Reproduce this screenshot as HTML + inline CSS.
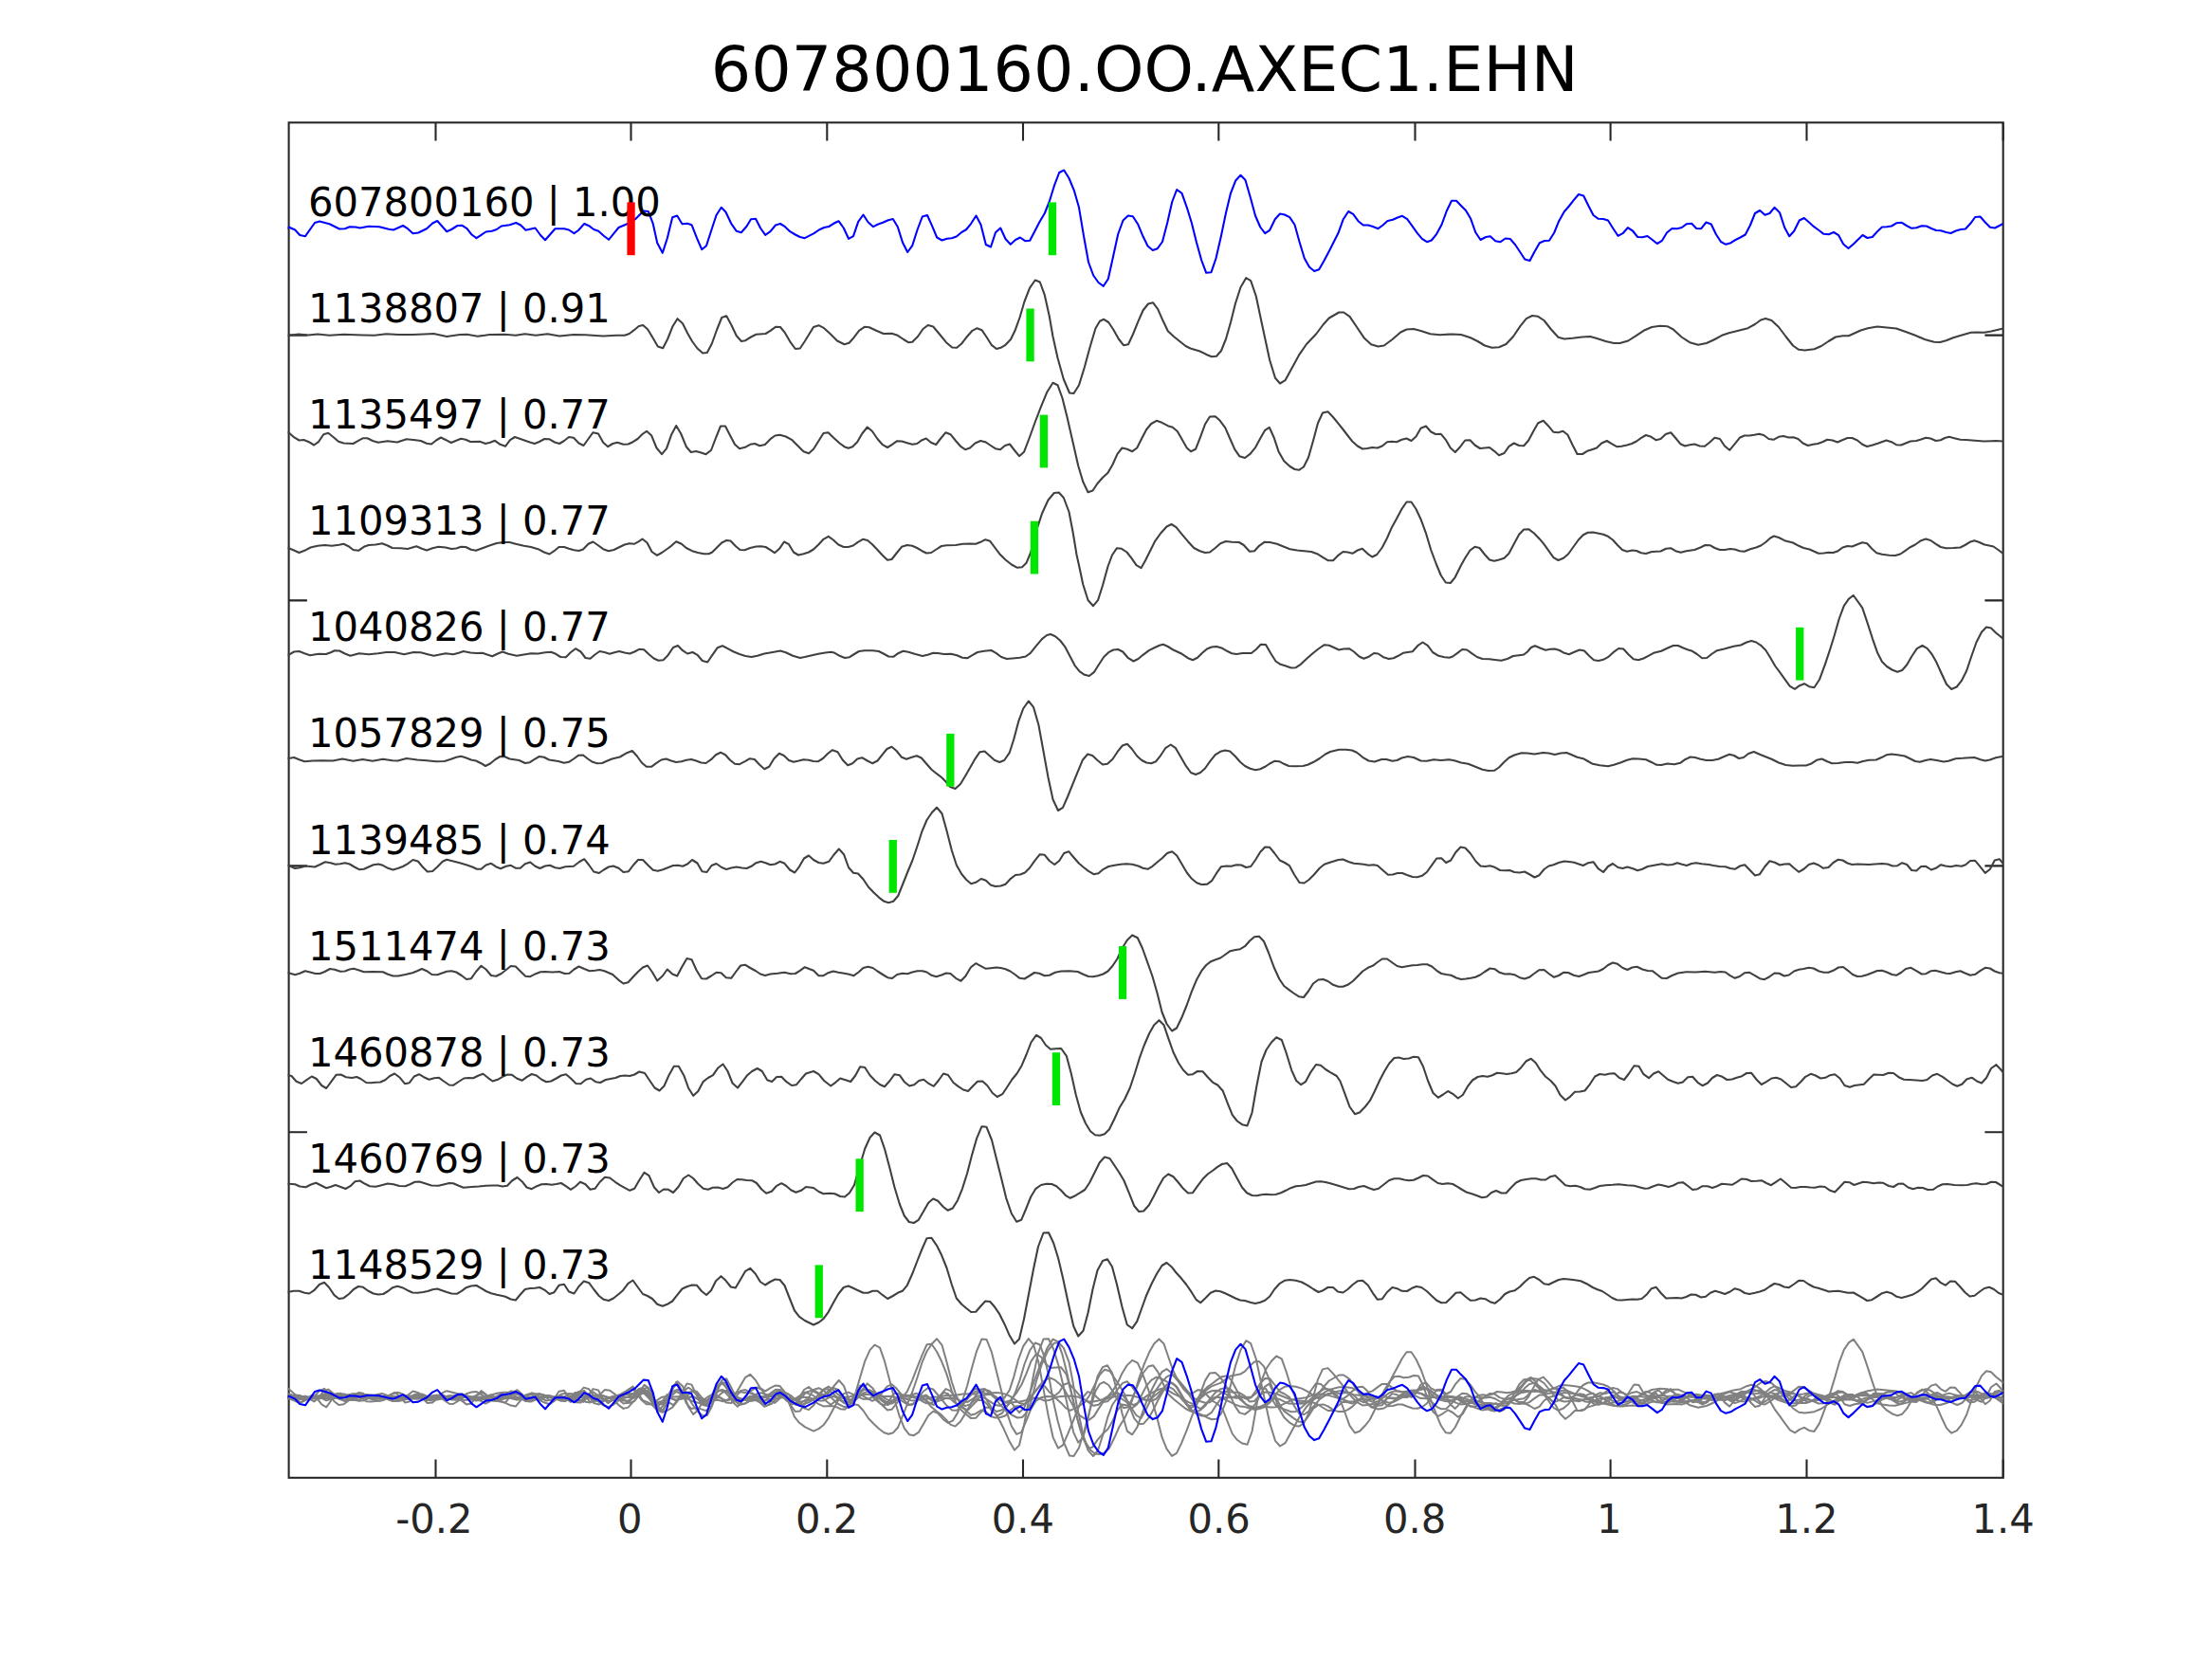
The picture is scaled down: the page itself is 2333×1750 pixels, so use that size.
<!DOCTYPE html>
<html lang="en"><head><meta charset="utf-8"><title>607800160.OO.AXEC1.EHN</title>
<style>html,body{margin:0;padding:0;background:#fff}body{width:2333px;height:1750px;overflow:hidden}svg{display:block}text{font-family:"DejaVu Sans","Liberation Sans",sans-serif}</style>
</head><body>
<svg width="2333" height="1750" viewBox="0 0 2333 1750">
<rect x="0" y="0" width="2333" height="1750" fill="#ffffff"/>
<text x="1207.2" y="95.7" font-size="66.67" text-anchor="middle" letter-spacing="0.14" fill="#000">607800160.OO.AXEC1.EHN</text>
<defs><clipPath id="c"><rect x="303.5" y="129.3" width="1809.2" height="1429.5"/></clipPath></defs>
<g stroke="#262626" stroke-width="2.08" fill="none" stroke-linecap="butt">
<path d="M459.5 1558.8 V1539.5 M459.5 129.3 V148.6"/>
<path d="M665.5 1558.8 V1539.5 M665.5 129.3 V148.6"/>
<path d="M872.3 1558.8 V1539.5 M872.3 129.3 V148.6"/>
<path d="M1079.0 1558.8 V1539.5 M1079.0 129.3 V148.6"/>
<path d="M1285.3 1558.8 V1539.5 M1285.3 129.3 V148.6"/>
<path d="M1492.5 1558.8 V1539.5 M1492.5 129.3 V148.6"/>
<path d="M1698.6 1558.8 V1539.5 M1698.6 129.3 V148.6"/>
<path d="M1905.5 1558.8 V1539.5 M1905.5 129.3 V148.6"/>
<path d="M2112.7 1558.8 V1539.5 M2112.7 129.3 V148.6"/>
<path d="M304.6 353.6 H323.9 M2112.7 353.6 H2093.4"/>
<path d="M304.6 633.4 H323.9 M2112.7 633.4 H2093.4"/>
<path d="M304.6 913.4 H323.9 M2112.7 913.4 H2093.4"/>
<path d="M304.6 1194.3 H323.9 M2112.7 1194.3 H2093.4"/>
<path d="M304.6 1474.0 H323.9 M2112.7 1474.0 H2093.4"/>
</g>
<rect x="304.6" y="129.3" width="1808.1" height="1429.5" fill="none" stroke="#262626" stroke-width="2.08"/>
<g clip-path="url(#c)" fill="none" stroke-linejoin="round" stroke-linecap="round">
<path d="M303.4 1362.8 L304.5 1362.8 L310.0 1361.8 L315.5 1361.8 L321.2 1363.8 L326.2 1364.5 L331.2 1361.2 L336.8 1355.0 L342.0 1352.8 L347.0 1358.0 L352.5 1366.2 L357.5 1370.0 L362.5 1369.2 L368.0 1365.0 L373.0 1360.0 L378.0 1357.0 L383.0 1357.8 L388.0 1361.5 L393.8 1364.5 L398.8 1365.5 L404.2 1365.0 L409.2 1362.0 L414.2 1358.2 L419.2 1356.8 L424.2 1358.2 L430.0 1361.2 L435.0 1363.5 L440.5 1363.8 L446.2 1363.0 L451.2 1362.0 L456.2 1360.2 L461.2 1359.5 L466.2 1361.2 L471.2 1363.0 L476.2 1364.5 L481.8 1364.8 L486.8 1361.8 L491.8 1358.2 L496.8 1356.5 L502.5 1356.0 L507.5 1358.8 L512.5 1362.0 L518.0 1364.2 L523.8 1365.8 L528.8 1366.8 L533.0 1367.8 L538.8 1370.5 L543.8 1371.5 L548.8 1365.5 L553.8 1360.0 L559.2 1359.0 L564.2 1358.8 L569.2 1358.0 L574.5 1360.8 L579.5 1365.0 L584.5 1363.2 L589.5 1355.8 L595.0 1354.8 L600.0 1362.5 L605.5 1364.5 L610.5 1357.0 L615.8 1351.5 L621.2 1353.2 L626.2 1360.0 L631.8 1367.0 L636.8 1370.8 L642.0 1372.0 L647.0 1369.5 L652.0 1365.5 L657.0 1361.2 L662.5 1353.8 L667.5 1350.5 L672.5 1357.5 L678.0 1365.0 L683.0 1367.0 L688.0 1370.0 L693.2 1375.8 L698.8 1377.8 L703.8 1375.8 L709.2 1372.5 L714.2 1366.2 L719.5 1359.5 L725.0 1357.0 L730.0 1355.5 L735.0 1355.8 L740.0 1362.0 L745.0 1366.0 L750.0 1361.2 L755.0 1351.2 L760.5 1346.2 L765.5 1350.8 L770.8 1357.5 L775.8 1358.5 L780.8 1350.0 L786.2 1340.8 L791.2 1337.8 L796.8 1343.8 L801.8 1352.0 L807.0 1355.5 L812.5 1352.0 L817.5 1349.5 L822.5 1350.0 L827.5 1356.0 L833.0 1370.0 L838.0 1382.5 L843.0 1388.8 L848.8 1393.0 L858.0 1397.5 L863.5 1395.0 L868.5 1391.2 L873.8 1383.8 L879.2 1373.8 L884.2 1365.0 L889.8 1358.0 L894.8 1356.5 L899.8 1358.8 L905.0 1361.2 L910.5 1363.8 L915.5 1363.8 L920.5 1361.8 L925.5 1361.8 L931.0 1366.2 L936.2 1370.0 L941.8 1367.0 L946.8 1363.8 L951.8 1361.8 L956.8 1355.8 L962.2 1343.8 L967.5 1330.0 L972.5 1317.5 L977.5 1306.2 L982.5 1305.8 L988.0 1313.8 L993.0 1323.8 L998.5 1337.5 L1003.8 1355.0 L1008.8 1369.5 L1014.2 1375.8 L1019.2 1380.0 L1024.2 1384.0 L1029.2 1383.8 L1034.2 1378.0 L1039.2 1372.5 L1044.2 1373.0 L1049.2 1378.8 L1054.2 1386.2 L1059.2 1396.2 L1064.8 1408.8 L1070.0 1417.5 L1075.0 1412.5 L1080.0 1391.2 L1085.0 1365.0 L1090.0 1338.8 L1095.0 1315.0 L1100.5 1300.5 L1106.0 1300.2 L1111.2 1311.2 L1116.2 1327.5 L1121.2 1348.8 L1126.8 1375.0 L1132.2 1398.8 L1137.2 1409.5 L1142.5 1403.8 L1147.5 1385.0 L1152.5 1360.0 L1157.5 1340.0 L1163.0 1330.0 L1168.0 1328.2 L1173.0 1336.2 L1178.0 1355.0 L1183.5 1378.8 L1188.8 1397.5 L1194.2 1401.2 L1199.2 1393.8 L1204.2 1380.0 L1209.2 1366.2 L1214.8 1353.8 L1220.0 1343.8 L1225.5 1335.0 L1230.5 1332.0 L1235.5 1336.2 L1240.5 1342.5 L1246.2 1348.8 L1251.2 1355.0 L1256.8 1363.2 L1261.8 1371.2 L1266.2 1374.2 L1271.2 1369.5 L1276.8 1363.8 L1282.2 1361.5 L1287.2 1362.2 L1292.2 1364.2 L1298.0 1367.0 L1303.0 1369.5 L1308.0 1371.5 L1313.0 1372.0 L1318.5 1373.8 L1323.8 1375.0 L1329.2 1373.8 L1334.2 1371.8 L1339.2 1367.5 L1344.2 1360.0 L1349.8 1353.8 L1354.8 1350.8 L1360.5 1350.0 L1366.8 1350.8 L1373.0 1352.5 L1379.2 1355.8 L1385.5 1360.0 L1390.5 1363.0 L1395.5 1361.2 L1400.5 1358.0 L1406.0 1358.0 L1411.0 1362.5 L1416.5 1363.5 L1421.5 1360.0 L1426.8 1355.0 L1432.2 1351.2 L1437.2 1350.8 L1442.8 1355.8 L1447.8 1363.8 L1452.8 1370.8 L1457.8 1370.2 L1463.0 1363.0 L1468.5 1358.0 L1473.5 1359.2 L1478.5 1361.8 L1484.0 1362.0 L1489.2 1358.8 L1494.0 1357.0 L1499.2 1358.0 L1504.8 1362.0 L1509.8 1366.8 L1515.2 1371.8 L1520.2 1374.2 L1525.2 1374.0 L1530.2 1369.2 L1535.5 1363.8 L1540.5 1363.2 L1546.0 1368.0 L1551.0 1371.8 L1556.0 1371.5 L1561.5 1369.5 L1566.5 1370.2 L1571.5 1373.2 L1576.5 1374.8 L1582.2 1370.5 L1587.2 1365.0 L1592.2 1362.5 L1597.8 1361.2 L1602.8 1357.5 L1607.8 1352.5 L1613.0 1348.0 L1618.0 1346.8 L1623.5 1350.0 L1628.5 1354.2 L1633.5 1355.0 L1638.5 1352.5 L1644.0 1350.0 L1649.0 1349.0 L1654.8 1349.5 L1661.0 1350.2 L1667.2 1351.2 L1673.5 1354.2 L1679.8 1358.0 L1684.8 1360.2 L1689.8 1362.0 L1695.2 1365.5 L1700.2 1369.0 L1705.2 1371.2 L1710.2 1371.5 L1716.0 1371.0 L1721.5 1370.5 L1726.5 1370.8 L1731.5 1370.0 L1736.5 1365.8 L1741.8 1359.2 L1746.8 1357.8 L1752.2 1364.5 L1757.2 1369.5 L1762.8 1369.2 L1768.5 1369.0 L1773.5 1369.5 L1778.5 1368.0 L1783.5 1365.5 L1788.5 1365.8 L1794.0 1368.5 L1799.0 1367.8 L1804.0 1363.8 L1809.0 1361.8 L1814.2 1363.2 L1819.2 1365.0 L1824.8 1362.5 L1829.8 1359.2 L1835.2 1360.8 L1840.2 1364.0 L1845.2 1365.0 L1851.0 1363.8 L1856.0 1362.5 L1861.0 1360.8 L1866.5 1357.0 L1871.5 1354.0 L1876.5 1355.0 L1881.8 1357.5 L1886.8 1358.2 L1892.2 1354.5 L1897.2 1350.8 L1902.2 1351.0 L1907.2 1354.5 L1912.8 1357.5 L1918.5 1359.0 L1924.0 1360.8 L1929.0 1362.5 L1934.0 1362.0 L1939.0 1361.8 L1944.0 1362.8 L1949.0 1363.8 L1954.8 1363.5 L1964.2 1368.8 L1969.2 1372.0 L1974.2 1371.2 L1980.0 1367.5 L1985.0 1364.2 L1990.0 1362.8 L1995.0 1364.2 L2000.5 1367.8 L2005.5 1369.0 L2011.2 1367.5 L2016.8 1365.8 L2021.8 1363.2 L2026.8 1359.5 L2031.8 1354.5 L2036.8 1349.5 L2041.8 1348.2 L2047.0 1353.2 L2052.0 1355.8 L2057.0 1351.5 L2062.0 1351.8 L2067.0 1357.0 L2072.5 1363.2 L2077.5 1367.5 L2082.5 1366.8 L2088.0 1362.5 L2093.0 1359.0 L2098.0 1357.8 L2103.0 1360.0 L2108.0 1364.0 L2112.8 1365.8" stroke="#404040" stroke-width="2.08"/>
<path d="M303.4 1248.8 L304.5 1248.8 L311.2 1249.2 L316.2 1251.5 L322.5 1252.2 L328.0 1249.5 L333.2 1247.8 L338.8 1250.5 L344.2 1253.2 L349.2 1251.8 L353.8 1250.0 L359.2 1252.0 L364.5 1254.0 L369.5 1251.2 L374.5 1246.2 L379.5 1245.5 L385.0 1248.8 L390.0 1251.2 L396.2 1251.8 L402.5 1250.2 L408.8 1248.5 L415.0 1249.2 L421.2 1251.0 L427.5 1251.2 L432.5 1249.2 L437.5 1246.8 L442.5 1246.5 L448.8 1248.5 L455.0 1250.5 L462.5 1250.8 L468.8 1249.2 L473.8 1248.0 L478.0 1248.2 L483.8 1250.8 L488.8 1252.8 L497.5 1252.0 L505.0 1251.5 L512.5 1250.8 L520.0 1250.5 L525.0 1250.5 L530.0 1251.5 L535.0 1250.8 L540.0 1245.5 L545.5 1242.0 L550.5 1246.2 L555.5 1252.5 L560.8 1254.2 L566.2 1251.2 L571.2 1249.2 L576.2 1249.0 L581.8 1249.8 L586.8 1249.0 L591.8 1248.0 L596.8 1251.2 L602.0 1254.8 L607.0 1251.5 L612.0 1246.8 L617.5 1249.2 L622.5 1254.8 L627.5 1253.8 L632.5 1247.0 L638.0 1241.8 L643.2 1242.5 L648.8 1246.8 L653.8 1250.2 L659.2 1253.2 L664.2 1255.8 L669.2 1253.8 L674.2 1245.0 L679.5 1236.8 L684.5 1240.2 L690.0 1252.5 L695.0 1258.0 L700.0 1254.5 L705.0 1254.8 L710.0 1258.0 L715.5 1252.0 L720.8 1243.0 L726.2 1239.5 L731.2 1243.0 L736.2 1248.8 L741.8 1253.8 L746.8 1254.8 L751.8 1252.8 L757.0 1252.5 L762.5 1254.0 L767.5 1252.2 L772.5 1247.5 L777.5 1244.0 L782.5 1244.2 L787.5 1245.0 L793.0 1245.2 L798.0 1248.0 L803.2 1254.5 L808.2 1258.8 L813.8 1256.8 L818.8 1251.2 L824.2 1248.2 L829.2 1251.0 L834.5 1255.5 L839.5 1257.8 L845.0 1255.8 L850.0 1252.0 L858.0 1253.0 L863.5 1257.0 L868.5 1259.2 L875.5 1258.8 L880.5 1259.2 L886.2 1262.0 L891.0 1262.5 L896.0 1258.2 L901.0 1250.0 L906.0 1232.5 L912.2 1211.8 L917.5 1200.0 L922.5 1194.5 L928.0 1197.5 L933.0 1211.8 L938.5 1232.5 L943.5 1252.5 L948.8 1270.0 L953.8 1282.5 L958.8 1289.0 L963.8 1290.0 L968.8 1286.8 L974.2 1277.5 L979.2 1268.8 L984.2 1264.5 L989.2 1266.8 L994.8 1273.0 L999.8 1276.8 L1004.8 1274.5 L1010.0 1266.2 L1015.0 1253.8 L1020.0 1238.0 L1025.0 1218.8 L1030.0 1201.2 L1035.5 1188.2 L1040.5 1188.8 L1046.0 1202.5 L1051.0 1222.5 L1056.2 1243.2 L1061.2 1263.8 L1066.8 1280.0 L1072.2 1288.8 L1077.2 1286.8 L1082.2 1275.0 L1087.2 1262.5 L1092.5 1253.8 L1098.0 1250.0 L1103.8 1248.8 L1109.2 1249.0 L1114.2 1251.2 L1119.2 1255.8 L1124.2 1261.2 L1128.8 1263.8 L1134.2 1261.2 L1139.2 1258.2 L1144.2 1255.0 L1149.2 1247.5 L1154.8 1236.2 L1159.8 1226.2 L1165.0 1220.5 L1170.5 1222.0 L1175.5 1229.5 L1180.5 1237.0 L1185.5 1245.5 L1191.0 1258.8 L1196.2 1272.0 L1201.2 1278.0 L1206.2 1277.5 L1211.8 1271.2 L1216.8 1262.0 L1222.2 1251.2 L1227.2 1242.5 L1232.2 1238.5 L1237.5 1241.2 L1242.5 1247.0 L1248.0 1253.8 L1253.0 1258.5 L1258.0 1258.2 L1263.0 1251.2 L1268.5 1243.8 L1273.8 1238.5 L1278.8 1235.0 L1283.8 1231.2 L1288.8 1228.0 L1294.2 1227.0 L1299.2 1232.5 L1304.8 1243.0 L1310.0 1252.5 L1315.0 1258.2 L1320.5 1261.0 L1325.5 1261.2 L1330.5 1260.2 L1335.5 1259.8 L1340.5 1260.2 L1345.5 1260.0 L1351.0 1258.2 L1356.2 1255.8 L1361.2 1253.2 L1366.8 1251.2 L1372.2 1250.8 L1377.2 1250.0 L1382.5 1248.2 L1388.0 1246.5 L1393.0 1246.2 L1398.0 1247.0 L1403.0 1248.2 L1411.5 1250.8 L1417.2 1252.5 L1422.8 1254.2 L1428.0 1254.0 L1433.0 1252.0 L1438.5 1251.0 L1444.0 1253.2 L1449.0 1255.0 L1454.0 1253.8 L1459.8 1249.2 L1465.2 1245.0 L1470.5 1243.2 L1476.0 1243.2 L1481.0 1244.5 L1486.0 1245.2 L1491.0 1244.8 L1496.0 1242.5 L1501.0 1240.0 L1506.0 1240.5 L1511.0 1244.2 L1516.5 1248.0 L1521.5 1249.0 L1527.2 1248.2 L1532.2 1249.0 L1537.2 1251.8 L1542.2 1255.0 L1547.2 1257.8 L1553.0 1259.5 L1558.5 1261.5 L1563.0 1263.2 L1568.0 1262.5 L1573.0 1258.0 L1578.0 1256.0 L1583.5 1258.5 L1588.5 1258.5 L1593.5 1253.0 L1599.0 1247.5 L1604.2 1245.0 L1609.8 1244.0 L1615.2 1243.2 L1620.2 1243.2 L1625.2 1244.5 L1630.2 1244.5 L1635.2 1241.2 L1640.2 1240.0 L1645.5 1245.0 L1651.0 1250.2 L1656.0 1251.2 L1661.5 1250.8 L1666.5 1252.0 L1671.5 1254.2 L1676.8 1254.8 L1682.2 1253.0 L1687.2 1251.0 L1693.5 1250.2 L1701.0 1249.8 L1707.2 1249.2 L1716.0 1250.2 L1723.5 1250.8 L1729.8 1252.5 L1734.8 1253.8 L1738.5 1253.5 L1744.0 1251.2 L1749.2 1249.5 L1754.2 1250.5 L1759.8 1252.0 L1764.8 1250.5 L1769.8 1247.8 L1774.8 1247.2 L1780.2 1251.0 L1785.2 1255.0 L1790.5 1254.2 L1795.5 1251.2 L1801.0 1251.2 L1806.0 1253.0 L1811.0 1251.2 L1816.0 1248.8 L1821.5 1249.2 L1826.8 1249.8 L1831.8 1246.8 L1836.8 1243.5 L1842.2 1244.0 L1847.2 1246.0 L1852.8 1245.8 L1857.8 1245.2 L1863.0 1248.0 L1868.0 1250.2 L1873.0 1246.8 L1878.0 1243.5 L1883.5 1248.0 L1889.0 1252.8 L1893.5 1253.0 L1899.0 1252.0 L1904.2 1252.0 L1909.2 1252.5 L1914.2 1252.8 L1919.8 1251.5 L1924.8 1252.0 L1930.2 1255.8 L1935.2 1257.5 L1940.5 1252.0 L1945.5 1246.8 L1950.5 1247.2 L1955.5 1250.0 L1965.0 1246.8 L1970.5 1247.2 L1976.2 1248.2 L1981.2 1247.5 L1986.2 1247.8 L1992.0 1251.0 L1997.0 1252.0 L2002.0 1248.8 L2007.0 1248.5 L2012.5 1252.5 L2017.5 1254.2 L2023.0 1252.8 L2028.0 1253.0 L2033.2 1255.0 L2038.8 1254.8 L2043.8 1251.5 L2048.8 1249.2 L2053.8 1249.0 L2061.2 1250.0 L2068.8 1250.2 L2075.0 1250.0 L2080.0 1248.8 L2084.5 1248.2 L2090.0 1249.2 L2095.0 1249.0 L2100.0 1246.8 L2105.0 1247.0 L2112.8 1251.8" stroke="#404040" stroke-width="2.08"/>
<path d="M303.4 1134.2 L304.5 1134.2 L307.5 1135.0 L312.5 1140.8 L318.0 1143.0 L323.8 1138.8 L328.8 1135.5 L333.8 1138.0 L339.2 1145.0 L344.2 1148.0 L349.2 1141.2 L354.5 1133.8 L359.5 1133.5 L365.0 1136.2 L371.2 1137.0 L376.2 1136.0 L380.5 1138.0 L386.2 1142.0 L391.2 1142.2 L396.2 1141.8 L401.2 1141.5 L406.2 1139.2 L411.2 1135.0 L416.2 1132.5 L421.8 1136.8 L427.0 1143.2 L431.8 1142.2 L436.8 1135.5 L442.0 1133.2 L447.0 1136.2 L452.5 1138.8 L458.0 1137.2 L463.0 1136.8 L468.0 1140.5 L473.8 1144.5 L478.0 1144.8 L483.8 1141.0 L489.2 1137.5 L494.2 1137.0 L499.2 1137.2 L504.2 1134.8 L509.5 1132.8 L514.5 1136.8 L519.5 1140.5 L525.0 1138.8 L530.0 1135.8 L535.0 1133.5 L540.0 1133.8 L545.0 1137.5 L550.5 1139.8 L555.5 1136.2 L560.8 1133.0 L565.8 1134.5 L571.2 1138.8 L576.2 1141.2 L581.2 1140.5 L586.8 1137.5 L591.8 1134.5 L597.0 1133.2 L602.0 1137.5 L607.5 1143.0 L612.5 1143.2 L618.0 1138.8 L623.0 1137.5 L628.2 1141.2 L633.2 1142.0 L638.8 1139.0 L643.8 1138.0 L649.2 1137.0 L654.2 1135.0 L659.2 1134.5 L664.2 1135.0 L669.2 1133.5 L674.2 1130.5 L680.0 1132.0 L685.0 1139.5 L690.5 1147.5 L695.5 1150.5 L700.5 1145.5 L705.5 1134.2 L710.8 1124.8 L715.8 1124.8 L721.2 1134.2 L726.2 1148.0 L731.2 1155.8 L736.2 1151.2 L741.8 1140.8 L746.8 1137.0 L752.0 1134.2 L757.0 1126.8 L762.5 1122.5 L767.5 1130.0 L772.5 1142.5 L778.0 1147.5 L783.0 1141.2 L788.2 1134.2 L793.2 1130.0 L798.8 1127.0 L803.8 1130.0 L809.2 1139.2 L814.2 1141.0 L819.2 1136.0 L824.2 1135.8 L829.5 1141.2 L835.0 1145.0 L840.0 1144.2 L845.0 1138.2 L850.0 1132.5 L858.0 1130.0 L863.5 1133.2 L869.2 1140.0 L876.2 1145.5 L881.2 1141.8 L886.2 1137.5 L891.8 1139.2 L897.2 1141.0 L902.2 1134.5 L907.2 1125.2 L912.2 1126.0 L917.5 1134.2 L923.0 1140.0 L928.0 1144.0 L933.0 1146.2 L938.5 1140.0 L943.5 1133.2 L948.8 1134.2 L953.8 1141.2 L959.2 1145.5 L964.2 1144.2 L969.2 1140.0 L974.2 1138.8 L979.8 1143.2 L984.8 1145.8 L990.0 1139.5 L995.0 1132.5 L1000.0 1134.0 L1005.5 1142.0 L1010.5 1145.8 L1016.0 1149.5 L1021.0 1151.0 L1026.0 1145.8 L1031.0 1140.8 L1036.2 1140.5 L1041.2 1145.0 L1046.8 1153.0 L1051.8 1157.0 L1057.2 1154.2 L1062.5 1146.2 L1067.5 1138.5 L1072.5 1132.5 L1077.5 1124.2 L1082.5 1112.5 L1087.5 1099.5 L1093.0 1091.8 L1098.0 1095.0 L1103.0 1102.5 L1108.0 1106.8 L1113.8 1106.2 L1119.2 1106.0 L1124.8 1113.8 L1129.8 1132.5 L1134.8 1155.0 L1139.8 1173.0 L1145.0 1185.0 L1150.0 1193.2 L1155.0 1197.2 L1160.0 1197.8 L1165.0 1196.2 L1170.0 1191.2 L1175.5 1180.0 L1180.5 1168.8 L1186.2 1159.5 L1191.8 1147.5 L1196.8 1132.5 L1201.8 1116.2 L1206.8 1102.5 L1212.2 1090.0 L1217.2 1081.2 L1222.5 1076.2 L1227.5 1081.2 L1232.5 1095.8 L1237.5 1110.0 L1243.0 1121.2 L1248.0 1128.8 L1253.0 1133.8 L1258.0 1133.2 L1263.0 1130.0 L1268.5 1130.2 L1273.8 1136.2 L1279.2 1141.8 L1284.2 1144.5 L1289.8 1150.8 L1294.8 1163.8 L1299.8 1176.2 L1304.8 1182.5 L1310.0 1186.2 L1315.5 1187.5 L1320.5 1173.8 L1325.5 1145.0 L1330.5 1120.0 L1335.5 1107.5 L1341.0 1099.5 L1346.2 1094.2 L1351.8 1097.0 L1356.8 1111.2 L1362.2 1128.8 L1367.2 1140.0 L1372.2 1144.2 L1377.2 1140.8 L1382.5 1130.8 L1388.0 1123.0 L1393.0 1123.8 L1398.0 1128.0 L1403.0 1131.2 L1409.8 1135.0 L1413.5 1140.5 L1418.5 1153.8 L1423.5 1167.5 L1429.0 1175.2 L1434.0 1173.5 L1439.8 1167.5 L1444.8 1161.2 L1449.8 1151.2 L1455.2 1139.5 L1460.2 1130.0 L1465.2 1121.8 L1470.5 1116.0 L1475.5 1115.5 L1480.5 1117.0 L1486.0 1116.5 L1491.0 1114.8 L1496.0 1115.2 L1501.0 1125.0 L1506.0 1140.0 L1511.5 1153.0 L1516.8 1157.8 L1522.2 1154.5 L1527.2 1151.0 L1532.2 1153.8 L1537.8 1158.5 L1542.8 1155.0 L1547.8 1146.2 L1553.0 1139.5 L1558.5 1136.0 L1563.5 1135.0 L1569.0 1135.8 L1574.0 1134.2 L1579.0 1131.8 L1584.0 1132.2 L1589.2 1133.0 L1594.2 1132.2 L1599.2 1131.0 L1604.2 1126.2 L1609.8 1119.2 L1614.8 1116.8 L1619.8 1121.2 L1624.8 1129.2 L1630.2 1135.8 L1635.5 1140.0 L1640.5 1145.5 L1645.5 1155.0 L1651.0 1160.5 L1656.0 1156.8 L1661.0 1151.8 L1666.5 1151.5 L1671.5 1150.5 L1676.8 1143.8 L1682.2 1135.5 L1687.2 1133.0 L1692.8 1133.8 L1697.8 1132.5 L1702.8 1132.2 L1708.0 1137.0 L1713.0 1139.0 L1718.0 1132.5 L1723.5 1124.2 L1728.5 1124.8 L1733.5 1133.2 L1739.0 1137.2 L1744.0 1132.5 L1749.2 1130.2 L1754.2 1134.5 L1759.2 1138.8 L1764.8 1141.0 L1769.8 1142.8 L1774.8 1141.5 L1780.2 1136.2 L1785.2 1135.8 L1790.5 1141.8 L1795.5 1145.2 L1801.0 1142.5 L1806.0 1137.0 L1811.0 1134.0 L1816.5 1135.8 L1821.5 1139.0 L1826.8 1138.5 L1831.8 1136.8 L1837.2 1135.2 L1842.2 1132.0 L1847.2 1131.8 L1852.8 1139.0 L1857.8 1144.0 L1863.0 1141.2 L1868.5 1137.5 L1873.5 1136.8 L1878.5 1138.5 L1883.5 1142.5 L1889.0 1147.0 L1894.0 1146.2 L1899.2 1141.2 L1904.2 1135.8 L1909.8 1132.8 L1914.8 1134.5 L1920.2 1137.5 L1925.2 1136.8 L1930.2 1134.2 L1935.2 1133.2 L1940.5 1137.5 L1945.5 1145.0 L1951.0 1146.8 L1956.0 1145.0 L1965.8 1143.8 L1971.2 1138.2 L1976.2 1133.5 L1981.2 1133.8 L1986.2 1134.0 L1992.0 1131.8 L1997.0 1132.0 L2002.5 1136.2 L2008.0 1138.8 L2013.8 1139.0 L2021.2 1139.5 L2027.5 1140.0 L2032.5 1139.0 L2038.0 1134.5 L2043.2 1132.8 L2048.8 1135.8 L2053.8 1139.5 L2059.2 1143.5 L2064.2 1145.8 L2069.2 1143.8 L2074.5 1138.2 L2080.0 1136.8 L2085.0 1140.5 L2090.0 1142.5 L2095.0 1137.0 L2100.0 1127.0 L2105.5 1123.2 L2110.0 1128.0 L2112.8 1131.2" stroke="#404040" stroke-width="2.08"/>
<path d="M303.4 1026.2 L304.5 1026.2 L311.2 1028.2 L316.2 1026.8 L321.8 1024.2 L327.0 1025.5 L332.5 1027.0 L337.5 1027.0 L342.5 1025.0 L348.0 1022.0 L353.0 1022.8 L358.8 1024.8 L363.8 1024.5 L368.8 1022.5 L373.0 1021.8 L378.0 1023.2 L383.8 1025.2 L393.8 1025.0 L403.8 1025.2 L409.2 1027.8 L414.5 1029.5 L420.0 1029.5 L427.5 1028.0 L435.0 1026.2 L440.0 1024.2 L445.0 1022.0 L450.0 1024.2 L455.5 1028.0 L461.2 1028.2 L466.2 1026.5 L471.2 1024.8 L476.2 1024.2 L481.2 1025.5 L486.8 1029.0 L492.0 1033.0 L497.0 1032.2 L502.0 1025.0 L507.5 1018.8 L512.5 1022.5 L518.0 1029.0 L523.2 1029.8 L528.8 1027.0 L533.8 1023.0 L538.8 1019.0 L543.8 1019.5 L548.8 1024.5 L554.2 1029.8 L559.2 1030.2 L565.0 1027.2 L570.0 1025.2 L575.0 1025.0 L582.5 1025.5 L590.0 1025.0 L595.5 1027.0 L600.5 1026.8 L605.5 1022.5 L610.5 1019.5 L616.2 1022.0 L621.8 1024.2 L627.5 1023.8 L632.5 1023.0 L637.5 1024.2 L646.2 1028.0 L652.5 1033.8 L657.5 1037.5 L662.5 1036.2 L667.5 1030.8 L673.0 1025.0 L678.0 1020.5 L683.0 1018.5 L688.0 1025.5 L693.2 1034.5 L698.8 1029.5 L703.8 1022.5 L709.2 1027.5 L714.2 1029.5 L719.2 1020.0 L724.5 1011.0 L729.5 1012.2 L734.5 1023.2 L740.0 1032.2 L745.0 1032.5 L750.0 1029.5 L755.5 1025.8 L760.5 1026.2 L765.8 1031.2 L771.2 1031.8 L776.2 1025.0 L781.2 1018.5 L786.2 1017.8 L791.2 1021.0 L796.8 1024.0 L802.0 1027.5 L807.0 1029.0 L812.5 1027.5 L820.0 1026.8 L827.5 1025.8 L833.8 1027.2 L838.8 1027.0 L843.8 1023.8 L848.8 1020.2 L858.0 1023.8 L863.5 1029.2 L868.5 1029.2 L873.5 1026.2 L878.8 1024.5 L884.2 1025.8 L890.5 1026.8 L895.5 1027.8 L900.5 1029.2 L905.5 1025.5 L910.5 1021.0 L915.5 1019.8 L920.5 1021.0 L925.5 1024.5 L931.0 1028.0 L936.2 1031.2 L941.0 1032.0 L946.2 1028.0 L951.8 1026.8 L957.2 1027.2 L962.2 1025.5 L967.5 1024.2 L973.0 1024.2 L977.5 1025.5 L982.5 1028.8 L987.5 1030.2 L993.0 1028.5 L998.0 1026.5 L1002.5 1027.0 L1008.0 1031.8 L1013.5 1034.8 L1018.5 1029.5 L1023.8 1020.5 L1029.2 1016.2 L1034.2 1018.8 L1039.8 1021.8 L1045.0 1021.2 L1050.5 1020.5 L1055.5 1021.0 L1060.5 1022.2 L1065.5 1024.5 L1070.5 1028.0 L1075.5 1031.8 L1080.5 1032.5 L1085.5 1029.5 L1091.0 1026.0 L1096.0 1026.8 L1101.8 1029.2 L1106.8 1028.8 L1113.0 1025.8 L1119.2 1024.5 L1128.0 1024.2 L1136.8 1025.0 L1143.0 1028.0 L1148.0 1030.0 L1153.0 1030.2 L1158.0 1029.2 L1163.5 1027.5 L1168.5 1024.5 L1173.5 1018.8 L1178.5 1011.2 L1183.0 1001.2 L1188.8 991.8 L1194.2 986.5 L1199.8 989.2 L1204.8 1000.0 L1209.8 1013.8 L1215.5 1030.0 L1220.5 1047.5 L1225.5 1067.5 L1230.5 1080.0 L1236.0 1087.5 L1241.0 1084.5 L1246.2 1073.8 L1251.8 1060.0 L1256.8 1046.2 L1262.2 1033.2 L1267.2 1024.2 L1272.2 1018.0 L1277.2 1014.2 L1282.2 1012.2 L1287.2 1010.5 L1292.2 1007.0 L1297.5 1003.2 L1303.0 1002.0 L1308.0 1001.2 L1313.0 998.2 L1318.0 992.5 L1323.0 988.2 L1328.0 987.8 L1333.0 993.0 L1338.0 1005.0 L1343.5 1020.0 L1349.2 1032.5 L1354.2 1040.0 L1359.2 1043.8 L1364.2 1047.5 L1369.8 1051.2 L1375.0 1052.0 L1380.0 1045.5 L1385.0 1037.5 L1390.5 1033.5 L1395.5 1033.0 L1400.5 1035.0 L1406.0 1038.8 L1411.5 1040.8 L1416.5 1040.8 L1421.5 1038.8 L1426.8 1035.0 L1431.8 1030.0 L1437.2 1024.5 L1442.8 1020.8 L1447.8 1018.8 L1452.8 1015.0 L1457.8 1011.5 L1463.0 1011.5 L1468.5 1015.5 L1473.5 1019.0 L1478.5 1020.2 L1484.0 1019.2 L1489.8 1018.2 L1494.8 1018.0 L1500.2 1017.2 L1505.2 1017.2 L1510.2 1019.5 L1515.2 1023.8 L1520.2 1027.0 L1525.5 1028.0 L1530.5 1028.8 L1536.0 1031.5 L1541.0 1033.0 L1546.0 1032.5 L1551.0 1031.8 L1556.0 1030.8 L1561.0 1028.5 L1566.0 1025.0 L1571.5 1021.5 L1576.5 1022.2 L1581.5 1025.8 L1587.2 1027.5 L1592.2 1027.2 L1597.2 1028.2 L1602.8 1031.2 L1608.0 1032.5 L1613.0 1030.8 L1618.0 1027.0 L1623.5 1023.2 L1628.5 1023.0 L1633.5 1027.0 L1639.0 1030.8 L1644.0 1029.0 L1649.0 1025.8 L1654.0 1026.0 L1659.8 1028.8 L1665.2 1030.0 L1670.2 1028.2 L1675.5 1026.0 L1681.0 1025.2 L1686.0 1024.5 L1691.0 1022.0 L1696.0 1018.0 L1701.0 1015.5 L1706.0 1016.8 L1711.5 1021.0 L1716.5 1023.0 L1721.5 1020.5 L1726.5 1019.8 L1732.2 1022.5 L1737.8 1024.0 L1742.8 1024.2 L1747.8 1028.0 L1752.8 1031.8 L1757.8 1032.0 L1763.5 1029.0 L1769.8 1026.5 L1778.5 1025.2 L1788.5 1025.5 L1798.5 1024.8 L1808.5 1025.8 L1814.8 1025.0 L1819.8 1025.5 L1824.8 1029.2 L1829.8 1031.8 L1834.8 1030.0 L1840.2 1026.2 L1845.2 1025.8 L1850.5 1028.8 L1856.0 1032.2 L1861.0 1033.2 L1866.0 1030.5 L1871.5 1026.5 L1876.5 1026.8 L1881.8 1029.5 L1886.8 1028.5 L1892.2 1024.5 L1897.2 1022.8 L1902.2 1022.0 L1907.8 1020.8 L1912.8 1021.5 L1918.5 1024.5 L1923.5 1025.8 L1928.5 1025.8 L1933.5 1023.8 L1939.0 1020.5 L1944.0 1020.0 L1949.0 1023.8 L1954.0 1028.0 L1959.0 1030.0 L1963.8 1029.8 L1969.2 1028.2 L1975.0 1026.0 L1980.0 1024.0 L1985.0 1023.8 L1990.0 1025.5 L1995.5 1028.0 L2000.0 1028.8 L2005.0 1026.0 L2010.0 1022.0 L2015.5 1020.8 L2021.2 1024.2 L2026.8 1027.5 L2031.2 1027.2 L2036.8 1024.2 L2041.2 1023.8 L2046.8 1025.2 L2052.5 1026.8 L2056.8 1027.0 L2062.5 1025.2 L2067.5 1024.2 L2072.5 1026.5 L2078.0 1028.8 L2083.2 1027.8 L2088.8 1023.8 L2093.8 1020.8 L2098.8 1021.5 L2103.8 1024.5 L2108.8 1026.2 L2112.8 1026.8" stroke="#404040" stroke-width="2.08"/>
<path d="M303.4 913.0 L304.5 913.0 L311.2 916.0 L316.2 915.2 L322.5 913.5 L332.0 914.5 L337.5 912.0 L343.0 909.2 L348.8 910.2 L353.8 911.8 L358.8 911.2 L363.8 910.2 L368.8 911.5 L373.8 914.5 L378.8 917.2 L383.8 916.8 L388.8 914.5 L393.8 912.2 L399.2 911.5 L403.8 912.8 L409.2 915.8 L414.5 917.5 L419.5 916.0 L425.0 914.0 L430.0 911.2 L435.5 907.0 L440.8 908.5 L445.8 914.5 L450.8 919.5 L456.2 919.0 L461.2 914.5 L466.8 908.8 L471.2 906.8 L476.2 908.0 L485.0 910.2 L492.5 912.5 L498.8 914.8 L503.0 916.8 L507.5 916.8 L512.5 912.5 L518.0 910.8 L523.0 914.2 L528.0 916.2 L533.8 913.8 L538.8 912.8 L544.2 915.8 L548.8 915.8 L553.8 911.2 L559.2 909.5 L564.5 913.8 L569.5 916.0 L575.0 913.5 L580.0 912.8 L585.5 915.2 L590.5 916.0 L596.2 914.2 L605.0 913.8 L611.2 909.0 L616.2 906.2 L621.2 912.5 L626.2 919.5 L631.8 921.0 L636.8 917.5 L641.8 914.5 L646.8 913.5 L652.5 915.8 L657.5 920.0 L663.0 919.2 L668.0 912.5 L673.0 907.0 L678.0 907.0 L683.8 913.0 L688.8 917.8 L693.8 918.8 L699.2 917.2 L705.0 915.0 L710.0 913.0 L715.0 912.8 L720.0 913.8 L725.0 911.5 L730.0 907.0 L735.5 910.5 L740.5 919.2 L745.5 920.0 L750.5 913.0 L755.5 911.0 L761.2 915.0 L766.2 917.0 L771.2 915.5 L776.8 914.5 L782.5 915.5 L787.5 916.0 L792.5 913.8 L797.5 910.2 L802.5 908.8 L807.5 910.2 L812.5 912.2 L817.5 911.5 L822.5 908.8 L827.5 910.8 L833.0 917.5 L838.2 920.5 L843.2 913.8 L848.0 905.5 L853.0 902.5 L858.0 907.0 L863.5 910.0 L868.5 910.8 L874.2 908.8 L879.2 902.0 L884.8 895.5 L890.0 901.2 L895.0 915.0 L900.0 920.8 L905.0 921.5 L910.5 927.5 L916.0 935.8 L921.8 941.8 L927.2 946.8 L932.5 950.8 L937.2 952.2 L942.2 950.8 L947.2 945.0 L952.2 932.5 L957.2 920.0 L962.2 908.0 L967.5 892.5 L972.5 876.8 L977.5 865.0 L983.0 857.0 L988.0 851.8 L993.5 858.2 L998.5 876.2 L1003.8 897.0 L1008.8 912.5 L1014.2 922.0 L1019.2 928.0 L1024.2 932.2 L1029.2 930.8 L1034.8 927.0 L1039.8 928.8 L1044.8 933.5 L1049.8 935.0 L1055.5 934.5 L1060.5 932.8 L1066.0 926.8 L1071.0 923.0 L1076.0 922.5 L1081.0 920.5 L1086.0 915.5 L1091.2 908.2 L1096.8 901.2 L1101.8 901.8 L1106.8 908.0 L1112.2 912.0 L1117.2 908.0 L1122.2 900.0 L1127.2 898.2 L1132.5 904.5 L1138.0 910.8 L1143.0 915.0 L1148.0 918.8 L1153.5 922.2 L1158.5 921.2 L1163.8 916.8 L1169.2 914.0 L1175.5 912.8 L1181.8 911.8 L1188.0 911.2 L1194.2 911.8 L1200.5 913.5 L1205.5 915.8 L1210.5 916.8 L1215.5 913.8 L1220.5 909.5 L1226.0 905.0 L1231.0 900.0 L1236.2 898.2 L1241.2 902.5 L1246.8 912.0 L1251.8 920.5 L1256.8 926.8 L1262.2 931.2 L1267.2 933.0 L1273.0 932.8 L1278.0 929.2 L1283.0 921.2 L1288.0 914.2 L1293.5 913.5 L1298.5 913.8 L1304.2 912.2 L1309.2 912.5 L1314.2 915.0 L1319.2 914.0 L1324.2 907.0 L1329.2 898.8 L1334.2 893.5 L1339.2 893.8 L1344.2 900.0 L1349.8 907.5 L1355.0 910.0 L1360.0 913.2 L1365.0 922.5 L1370.5 931.0 L1375.5 931.5 L1380.5 928.0 L1386.0 922.5 L1391.8 915.8 L1396.8 911.8 L1401.8 910.0 L1411.5 907.0 L1416.5 906.5 L1422.2 909.0 L1427.8 910.8 L1433.5 911.2 L1438.5 911.8 L1443.5 912.8 L1448.5 912.2 L1452.8 913.0 L1458.5 918.0 L1464.0 922.8 L1469.0 922.5 L1474.0 921.0 L1479.0 921.0 L1484.0 923.0 L1489.8 925.0 L1494.8 925.2 L1499.8 923.8 L1504.8 920.0 L1509.8 913.2 L1515.2 905.5 L1520.2 905.2 L1525.2 910.0 L1530.2 907.5 L1535.2 899.2 L1540.5 893.5 L1545.5 894.5 L1551.0 900.5 L1556.5 908.5 L1561.5 913.5 L1566.5 914.0 L1571.5 913.2 L1576.5 914.8 L1582.2 918.0 L1587.2 918.2 L1592.2 918.0 L1597.2 920.0 L1602.8 920.5 L1608.0 919.5 L1613.5 922.5 L1618.5 925.5 L1623.5 923.2 L1628.5 917.0 L1633.5 913.5 L1638.5 912.2 L1644.0 910.0 L1649.8 908.5 L1654.8 909.0 L1660.2 909.8 L1665.2 911.5 L1669.8 913.0 L1675.2 910.2 L1680.5 909.2 L1685.5 916.2 L1691.0 920.0 L1696.0 914.0 L1701.0 911.0 L1706.5 915.0 L1711.5 916.0 L1716.5 914.5 L1722.2 916.2 L1727.2 918.2 L1732.2 916.8 L1737.8 914.0 L1746.0 912.5 L1752.8 911.2 L1758.5 912.5 L1764.0 912.0 L1769.0 910.2 L1774.0 911.8 L1779.0 913.0 L1784.0 911.0 L1789.0 910.2 L1794.8 911.2 L1802.2 912.0 L1807.2 913.0 L1813.5 914.0 L1819.8 914.2 L1824.8 916.0 L1829.8 916.8 L1835.2 913.5 L1840.2 912.2 L1845.5 917.8 L1851.0 923.5 L1856.0 922.2 L1861.5 914.0 L1866.5 908.2 L1871.8 909.8 L1877.2 912.5 L1882.2 911.5 L1887.2 911.2 L1892.2 915.8 L1897.2 919.8 L1902.8 916.5 L1907.8 912.0 L1912.8 910.5 L1918.0 912.5 L1923.0 915.8 L1928.5 915.0 L1933.5 910.0 L1938.5 906.8 L1943.5 907.5 L1948.5 910.5 L1953.5 912.0 L1959.0 911.5 L1965.0 911.8 L1971.2 912.0 L1977.5 911.5 L1985.0 911.0 L1990.8 911.5 L1996.2 913.5 L2001.2 913.2 L2006.2 910.2 L2011.2 912.0 L2016.2 918.0 L2021.2 918.5 L2026.2 914.0 L2031.2 913.8 L2036.8 917.5 L2041.8 915.8 L2047.0 912.2 L2052.0 913.5 L2057.5 914.2 L2063.2 913.0 L2068.8 913.8 L2073.0 912.2 L2078.0 908.0 L2083.2 907.8 L2088.2 913.8 L2093.8 920.8 L2098.8 917.0 L2103.8 907.5 L2108.8 906.2 L2112.8 911.2" stroke="#404040" stroke-width="2.08"/>
<path d="M303.4 800.0 L304.5 800.0 L310.0 799.0 L315.5 801.2 L321.2 803.2 L330.0 802.5 L340.0 802.2 L351.2 802.5 L361.2 800.5 L372.5 802.8 L382.5 801.0 L393.0 802.8 L403.8 800.8 L413.8 802.2 L419.5 802.5 L428.8 800.0 L440.0 801.5 L450.0 802.2 L460.0 803.2 L468.8 803.0 L475.0 801.0 L481.2 798.8 L486.2 797.8 L491.2 799.2 L496.8 801.5 L502.0 802.5 L507.5 805.2 L512.0 808.0 L517.0 805.5 L522.5 801.0 L527.5 798.0 L532.5 798.2 L537.5 800.5 L547.5 802.0 L553.8 805.0 L558.8 804.2 L563.8 800.8 L568.8 798.0 L573.8 798.8 L579.2 801.5 L588.8 803.0 L595.0 804.8 L600.0 803.8 L605.0 800.5 L610.0 796.8 L615.0 796.5 L620.0 800.5 L625.0 803.8 L630.0 805.2 L635.0 805.0 L640.0 802.8 L645.5 800.5 L653.8 798.5 L661.2 794.2 L666.8 792.0 L671.8 797.5 L676.8 804.5 L681.8 808.8 L687.0 808.8 L692.0 805.2 L697.5 801.5 L702.5 800.5 L708.0 802.5 L713.0 804.0 L718.8 803.2 L723.8 801.8 L729.2 801.0 L734.2 802.5 L739.5 804.5 L744.5 805.0 L750.0 801.2 L755.0 796.2 L760.0 793.8 L765.0 796.2 L770.0 801.8 L775.0 805.8 L780.0 806.2 L785.8 803.2 L790.8 800.2 L795.8 801.0 L801.2 806.8 L806.2 811.2 L811.2 808.8 L816.2 800.5 L821.8 794.8 L826.8 797.0 L832.0 802.0 L837.0 803.8 L842.5 802.5 L847.5 801.2 L853.0 801.8 L858.0 803.0 L863.0 803.2 L868.0 800.0 L873.0 795.0 L878.0 791.2 L883.5 793.2 L888.8 801.8 L894.2 807.2 L899.2 805.2 L904.2 800.5 L909.2 799.2 L914.8 802.5 L920.0 805.2 L925.5 802.5 L930.5 796.2 L935.5 790.0 L940.5 787.8 L945.5 792.0 L951.0 798.8 L956.0 800.8 L961.8 798.8 L966.8 797.2 L971.8 799.5 L977.2 805.8 L982.5 811.8 L988.0 816.2 L993.0 820.0 L998.0 825.0 L1002.2 830.0 L1007.5 832.0 L1013.0 827.0 L1018.0 818.8 L1023.0 810.0 L1028.0 801.2 L1033.5 793.2 L1038.5 792.5 L1043.5 797.0 L1048.8 801.8 L1054.2 804.0 L1059.2 802.0 L1064.8 793.8 L1069.2 780.0 L1074.2 761.2 L1079.2 747.5 L1084.8 739.5 L1090.0 745.8 L1095.5 765.0 L1100.5 792.5 L1105.5 820.0 L1110.5 843.2 L1116.0 855.0 L1121.0 851.8 L1126.2 840.0 L1131.8 826.2 L1136.8 813.8 L1141.8 801.8 L1147.2 795.5 L1152.2 797.0 L1157.5 802.0 L1163.0 806.5 L1168.0 805.8 L1173.5 800.8 L1178.5 793.2 L1183.8 786.5 L1188.8 784.8 L1193.8 790.0 L1199.2 797.5 L1204.2 802.0 L1209.2 804.5 L1214.2 805.2 L1219.2 803.2 L1224.2 796.8 L1229.2 789.2 L1234.8 785.5 L1240.0 789.2 L1245.5 798.8 L1251.0 808.2 L1256.0 815.0 L1261.0 817.0 L1266.0 815.0 L1271.0 810.5 L1276.2 803.2 L1281.8 796.2 L1287.2 792.8 L1292.2 791.5 L1297.2 792.5 L1303.0 798.0 L1308.0 803.8 L1313.0 808.0 L1318.5 810.8 L1324.2 812.2 L1329.2 811.2 L1334.2 808.8 L1339.2 805.5 L1344.2 802.8 L1349.2 803.2 L1354.2 805.8 L1359.2 808.0 L1365.5 808.2 L1374.2 808.0 L1379.2 806.8 L1385.5 803.8 L1391.8 800.0 L1398.0 795.5 L1403.0 793.0 L1412.2 790.8 L1419.8 790.8 L1426.0 791.5 L1431.0 793.8 L1437.2 798.8 L1443.5 802.5 L1449.8 803.5 L1457.2 801.0 L1462.2 801.0 L1468.5 802.8 L1473.5 802.0 L1478.5 799.5 L1484.8 798.0 L1491.0 799.0 L1498.5 802.5 L1504.8 802.8 L1512.2 801.2 L1519.8 802.0 L1528.5 801.2 L1534.8 802.5 L1541.0 804.5 L1548.5 805.8 L1556.0 808.8 L1563.5 811.8 L1569.8 813.0 L1576.0 812.8 L1581.0 809.5 L1586.0 804.2 L1591.5 799.2 L1597.2 796.5 L1604.8 794.2 L1611.0 794.5 L1618.5 795.5 L1627.2 794.0 L1633.5 794.5 L1639.8 796.0 L1646.0 794.5 L1652.2 794.0 L1657.2 796.0 L1663.5 798.8 L1669.8 800.2 L1674.8 803.0 L1679.8 805.8 L1687.2 807.2 L1696.0 808.2 L1702.2 806.8 L1709.8 804.2 L1716.0 801.8 L1722.2 800.2 L1728.5 800.5 L1736.0 801.2 L1742.2 804.2 L1747.2 806.8 L1752.2 807.0 L1758.5 805.5 L1766.0 806.2 L1772.2 804.8 L1777.2 801.2 L1782.8 798.5 L1787.8 799.0 L1793.5 800.8 L1799.8 802.0 L1806.0 802.0 L1812.2 800.8 L1818.5 798.0 L1824.0 795.8 L1829.0 797.0 L1834.0 800.0 L1839.0 799.0 L1844.0 795.0 L1849.8 793.0 L1856.0 795.8 L1862.2 798.2 L1868.5 800.8 L1876.0 804.5 L1883.5 807.0 L1891.0 807.8 L1898.5 807.5 L1904.8 807.5 L1909.8 805.8 L1916.0 801.8 L1921.5 800.5 L1927.2 803.2 L1932.2 805.2 L1938.5 805.0 L1946.0 804.0 L1953.5 804.0 L1959.0 804.8 L1965.0 803.0 L1971.2 801.8 L1978.8 801.5 L1985.0 798.8 L1990.0 796.2 L1995.0 795.5 L2001.2 796.2 L2008.8 797.5 L2015.0 800.5 L2020.0 803.0 L2025.0 803.8 L2030.0 802.2 L2036.2 801.0 L2042.5 802.0 L2050.0 803.5 L2055.0 802.8 L2062.5 800.2 L2070.0 799.8 L2077.5 799.2 L2082.5 799.0 L2088.8 801.2 L2093.8 802.5 L2098.8 801.5 L2105.0 799.2 L2112.8 797.8" stroke="#404040" stroke-width="2.08"/>
<path d="M303.4 690.8 L304.5 690.8 L310.0 687.5 L315.5 687.0 L321.2 689.2 L327.0 691.2 L336.2 689.8 L343.8 690.0 L348.8 688.2 L353.0 686.2 L358.0 686.5 L363.8 689.5 L369.5 691.8 L378.8 689.2 L388.8 690.2 L398.8 689.2 L407.5 688.0 L416.2 688.0 L426.2 690.2 L436.2 688.0 L443.8 688.2 L451.2 690.2 L457.5 691.8 L470.0 689.2 L478.0 690.2 L483.8 688.8 L488.8 687.0 L496.2 688.5 L502.5 689.0 L508.8 688.8 L513.8 690.5 L519.2 692.2 L525.0 689.5 L530.0 687.5 L536.2 689.8 L545.0 691.8 L552.5 690.5 L560.0 689.2 L567.5 689.5 L575.0 688.2 L581.2 687.8 L586.2 689.8 L591.2 693.0 L596.8 693.2 L601.8 688.2 L607.0 684.2 L612.5 687.5 L617.5 694.0 L622.5 694.8 L627.5 690.5 L632.5 687.0 L637.5 688.0 L643.0 689.8 L648.0 688.2 L653.0 687.0 L658.8 688.5 L664.2 689.5 L669.2 687.5 L674.2 684.8 L679.2 685.2 L684.2 690.0 L689.5 694.5 L694.5 696.8 L699.5 696.2 L704.5 691.2 L710.0 683.0 L715.0 681.0 L720.0 686.2 L725.0 689.5 L730.5 688.0 L735.5 690.8 L740.8 697.0 L746.2 698.5 L751.2 691.2 L756.8 683.2 L762.0 681.2 L767.5 684.2 L773.8 687.5 L780.0 690.0 L786.2 692.0 L792.5 693.0 L798.8 691.8 L806.2 689.5 L815.0 688.0 L823.0 686.5 L828.8 688.2 L836.2 691.8 L843.8 694.0 L848.8 693.0 L863.0 689.8 L870.5 688.5 L876.8 687.8 L880.5 688.8 L885.5 691.8 L891.0 694.0 L896.0 693.2 L901.0 690.0 L906.0 687.0 L911.8 686.2 L920.5 686.2 L926.8 687.0 L931.8 689.5 L937.2 692.5 L942.2 692.8 L947.2 689.2 L952.5 686.8 L958.0 687.8 L965.5 690.0 L973.0 692.0 L979.2 690.5 L984.2 688.8 L989.2 689.0 L995.5 690.0 L1003.0 689.8 L1009.2 691.2 L1015.0 693.8 L1020.5 694.2 L1025.5 691.2 L1031.0 688.0 L1038.0 686.8 L1045.5 686.0 L1050.5 688.8 L1056.0 693.0 L1061.8 695.0 L1068.0 694.5 L1075.5 693.8 L1081.8 692.5 L1086.8 688.8 L1093.0 681.2 L1099.2 673.8 L1104.2 670.0 L1108.0 669.0 L1113.0 671.2 L1118.0 675.5 L1123.0 681.8 L1128.0 691.2 L1133.5 701.8 L1138.5 708.2 L1143.8 711.8 L1148.8 713.0 L1153.8 709.2 L1158.8 701.2 L1164.2 693.0 L1169.2 688.2 L1174.2 685.5 L1179.2 685.0 L1184.2 687.5 L1190.0 694.2 L1195.5 697.5 L1200.5 695.0 L1205.5 690.8 L1211.8 686.2 L1218.0 683.0 L1223.0 680.8 L1226.8 679.8 L1231.8 682.0 L1238.0 685.8 L1245.5 689.2 L1253.0 694.2 L1258.0 696.2 L1263.0 693.8 L1268.0 688.8 L1273.0 684.5 L1278.0 682.5 L1283.0 682.0 L1289.2 683.8 L1294.2 686.8 L1299.2 689.2 L1304.2 690.0 L1310.5 689.0 L1319.8 689.0 L1324.8 685.0 L1329.8 679.8 L1335.0 680.0 L1340.0 688.8 L1345.5 697.5 L1350.5 700.8 L1355.5 702.2 L1361.8 704.5 L1366.8 704.2 L1371.8 700.8 L1378.0 695.0 L1384.2 689.5 L1390.5 684.5 L1396.8 680.2 L1401.8 680.8 L1412.2 685.5 L1417.2 684.5 L1423.0 684.2 L1428.0 687.5 L1433.5 692.5 L1438.5 694.8 L1443.5 692.8 L1449.0 689.0 L1453.5 689.5 L1459.0 693.2 L1464.8 695.0 L1469.8 694.2 L1474.8 691.8 L1479.8 688.8 L1489.8 687.2 L1495.2 681.2 L1500.5 677.5 L1506.0 681.2 L1511.0 688.0 L1517.2 691.8 L1523.5 693.2 L1528.5 693.8 L1532.2 692.5 L1537.2 688.8 L1542.2 685.0 L1547.2 685.5 L1552.2 689.2 L1557.8 693.0 L1563.5 695.0 L1571.0 695.2 L1578.5 696.2 L1583.5 696.8 L1589.8 695.0 L1596.0 692.0 L1602.2 691.2 L1607.2 690.5 L1611.0 687.5 L1614.8 683.0 L1619.0 681.2 L1624.8 683.8 L1630.2 685.8 L1635.2 684.8 L1639.8 684.5 L1644.8 686.0 L1649.8 688.8 L1654.8 690.2 L1660.5 687.8 L1666.0 685.5 L1671.0 686.5 L1676.0 691.8 L1681.0 696.2 L1686.0 697.0 L1691.0 695.8 L1696.0 693.2 L1701.5 688.2 L1707.2 684.0 L1712.2 684.5 L1717.2 690.0 L1722.8 695.2 L1728.0 696.2 L1733.5 694.5 L1738.5 691.8 L1744.0 688.8 L1752.2 686.8 L1758.5 683.8 L1764.8 681.0 L1769.8 681.0 L1774.8 683.2 L1779.8 685.2 L1784.8 686.8 L1789.8 690.0 L1795.2 694.2 L1800.2 694.0 L1805.2 690.0 L1811.0 686.2 L1818.5 684.5 L1828.5 681.8 L1836.0 680.5 L1842.2 677.5 L1847.2 676.0 L1852.2 677.5 L1857.2 680.8 L1862.2 685.8 L1867.2 693.8 L1872.2 702.5 L1877.2 709.2 L1882.2 716.2 L1887.8 723.8 L1893.0 726.8 L1898.0 723.2 L1903.0 721.2 L1908.0 724.2 L1913.5 725.2 L1919.0 716.8 L1924.8 701.2 L1929.8 686.2 L1934.8 670.0 L1939.8 652.5 L1944.8 639.2 L1949.8 631.8 L1954.8 628.0 L1964.2 641.2 L1969.2 655.8 L1975.0 673.8 L1980.0 688.2 L1985.0 698.0 L1990.0 703.0 L1995.5 706.5 L2001.2 708.8 L2006.2 707.0 L2011.2 701.2 L2016.2 692.5 L2021.8 684.2 L2027.5 681.0 L2032.5 683.8 L2037.5 690.0 L2042.5 698.8 L2047.5 710.0 L2053.0 721.8 L2058.2 727.0 L2063.8 724.5 L2068.8 718.2 L2074.2 707.5 L2079.2 692.5 L2084.5 677.5 L2090.0 666.8 L2095.0 661.5 L2100.0 662.5 L2105.0 667.5 L2112.8 673.8" stroke="#404040" stroke-width="2.08"/>
<path d="M303.4 578.2 L304.5 578.2 L310.0 580.5 L315.5 583.0 L321.2 580.8 L327.5 577.5 L335.0 575.8 L342.5 575.0 L350.0 575.8 L357.5 574.8 L362.5 573.8 L367.5 576.2 L372.5 580.0 L378.0 580.8 L383.8 576.8 L388.8 575.0 L396.2 574.5 L403.0 573.2 L408.8 575.5 L413.8 578.0 L422.5 578.2 L430.0 579.0 L435.0 577.5 L439.2 576.2 L445.0 578.8 L450.0 580.5 L456.2 578.2 L462.5 576.8 L470.0 577.5 L476.2 579.0 L481.2 578.5 L486.2 576.8 L491.2 577.0 L496.8 579.8 L502.0 580.8 L508.8 578.2 L516.2 575.5 L523.8 573.0 L531.2 572.0 L537.5 572.0 L543.8 573.8 L552.5 575.8 L560.0 577.0 L567.5 579.2 L573.8 582.5 L579.5 584.5 L584.5 581.2 L589.5 577.0 L595.0 577.0 L600.0 578.8 L605.5 580.2 L610.5 581.0 L615.0 579.5 L620.5 573.8 L625.5 571.5 L630.5 575.0 L636.2 579.2 L641.8 581.2 L647.5 580.0 L652.5 577.5 L658.8 574.5 L663.8 573.2 L668.8 573.8 L673.8 571.2 L677.5 568.5 L682.5 572.5 L687.5 582.0 L693.0 585.8 L698.0 583.0 L703.0 579.5 L708.0 575.8 L713.2 571.2 L718.8 573.8 L723.8 578.0 L730.0 581.2 L736.2 583.0 L742.5 584.2 L747.5 584.2 L751.2 582.5 L756.2 577.5 L761.2 572.5 L766.2 570.0 L770.5 570.5 L775.5 575.8 L780.5 580.0 L785.5 580.2 L791.2 578.0 L797.5 576.5 L802.5 576.2 L807.5 577.0 L812.5 580.2 L817.0 583.2 L822.0 578.8 L827.0 571.5 L832.0 574.2 L837.0 582.5 L842.0 585.5 L847.5 584.2 L853.0 582.5 L858.0 579.5 L863.5 574.2 L868.5 568.8 L873.8 565.8 L878.8 569.5 L884.2 574.5 L889.8 577.0 L894.8 577.0 L899.8 575.5 L904.8 571.8 L910.0 568.8 L915.0 570.0 L920.0 574.2 L925.5 580.0 L930.5 585.5 L936.0 590.8 L940.5 590.0 L946.0 583.0 L951.0 576.8 L956.8 575.0 L962.2 575.8 L967.2 578.0 L972.5 581.2 L977.2 583.5 L982.2 583.0 L987.5 579.5 L993.0 576.0 L998.5 575.2 L1008.0 575.0 L1015.5 573.8 L1023.0 573.5 L1029.2 573.8 L1034.2 571.8 L1039.2 569.2 L1044.2 570.8 L1049.2 577.5 L1054.2 584.2 L1060.5 590.5 L1066.8 595.5 L1073.0 598.8 L1078.0 598.2 L1082.5 593.8 L1087.2 582.5 L1093.0 560.0 L1099.2 541.2 L1105.5 527.5 L1111.8 520.0 L1116.8 519.5 L1121.8 525.0 L1127.5 540.0 L1131.8 562.5 L1135.5 585.0 L1138.8 600.0 L1142.2 616.2 L1147.5 633.0 L1153.0 639.2 L1158.0 633.2 L1163.0 617.5 L1168.5 597.5 L1173.0 585.5 L1178.0 578.2 L1183.0 578.8 L1188.5 582.5 L1193.5 588.8 L1198.5 596.2 L1203.5 599.2 L1208.0 591.2 L1213.0 581.2 L1218.0 571.2 L1224.2 562.5 L1230.5 555.5 L1235.5 553.0 L1240.5 556.2 L1246.8 563.8 L1253.0 571.2 L1259.2 578.0 L1265.5 581.2 L1271.0 583.0 L1276.0 582.5 L1281.8 578.0 L1287.2 573.2 L1293.0 571.0 L1299.2 571.8 L1306.8 572.0 L1311.8 575.0 L1318.0 581.8 L1323.0 581.2 L1328.0 575.8 L1333.5 571.8 L1339.2 572.0 L1346.8 573.8 L1353.0 576.2 L1360.5 579.2 L1368.0 580.5 L1375.5 581.2 L1383.0 582.0 L1389.2 584.2 L1395.5 588.2 L1400.5 591.2 L1406.0 591.2 L1411.0 586.2 L1416.5 582.0 L1421.5 582.5 L1426.5 583.8 L1431.8 580.5 L1436.8 578.8 L1442.2 583.8 L1447.2 587.5 L1452.2 585.0 L1457.8 577.5 L1463.0 567.5 L1468.0 556.2 L1473.5 546.2 L1478.5 536.8 L1483.5 529.5 L1488.5 529.5 L1493.5 537.0 L1499.0 548.8 L1504.2 563.2 L1509.2 580.0 L1514.8 595.0 L1519.8 607.0 L1524.8 614.5 L1529.8 615.0 L1534.8 608.8 L1541.0 596.2 L1545.2 588.8 L1550.5 580.5 L1555.5 576.8 L1560.5 578.0 L1566.0 585.0 L1571.0 590.5 L1576.0 591.8 L1581.0 590.5 L1586.5 588.8 L1591.5 583.8 L1596.8 573.8 L1602.2 563.8 L1607.2 558.5 L1612.2 558.2 L1618.0 562.5 L1623.5 568.2 L1628.5 574.2 L1633.5 581.2 L1638.5 588.2 L1643.5 591.0 L1649.0 588.8 L1654.0 584.5 L1659.0 577.5 L1664.8 569.5 L1669.8 564.2 L1674.8 561.8 L1680.2 561.5 L1685.2 562.5 L1691.0 563.8 L1696.0 565.8 L1701.0 569.5 L1706.0 575.0 L1711.0 580.0 L1716.0 581.8 L1721.5 580.5 L1726.0 581.0 L1731.0 583.2 L1736.0 584.0 L1742.2 582.0 L1751.5 581.5 L1757.2 578.8 L1762.2 578.2 L1767.2 581.2 L1772.8 582.8 L1778.5 581.2 L1787.2 580.0 L1793.5 577.5 L1798.5 575.0 L1803.5 575.2 L1808.5 578.0 L1814.0 580.0 L1819.0 580.0 L1824.8 579.0 L1829.8 579.5 L1834.8 581.2 L1839.8 581.8 L1846.0 579.2 L1852.2 577.5 L1857.2 575.5 L1862.2 572.0 L1867.2 567.5 L1871.0 565.5 L1876.0 567.0 L1882.2 570.2 L1891.0 572.5 L1897.2 575.8 L1902.2 578.0 L1908.5 579.5 L1913.5 581.8 L1918.0 583.8 L1923.5 583.5 L1928.5 582.8 L1933.5 583.0 L1938.5 581.2 L1943.5 577.5 L1948.5 576.0 L1953.5 576.5 L1959.0 574.2 L1964.2 572.2 L1969.2 573.2 L1974.2 578.8 L1979.2 583.2 L1985.0 584.8 L1992.5 585.8 L1998.8 586.0 L2004.2 584.5 L2009.2 581.2 L2014.2 577.5 L2020.0 574.5 L2026.2 570.2 L2031.2 568.5 L2036.2 570.0 L2041.8 573.8 L2046.8 577.0 L2052.5 578.2 L2060.0 578.0 L2067.5 577.5 L2072.5 575.0 L2077.5 571.8 L2082.5 570.2 L2087.5 572.0 L2093.0 574.5 L2098.0 575.5 L2102.5 576.5 L2107.5 580.0 L2112.8 583.8" stroke="#404040" stroke-width="2.08"/>
<path d="M303.4 456.2 L304.5 456.2 L310.0 461.2 L315.5 464.5 L320.5 464.0 L325.8 466.2 L331.2 469.5 L336.2 465.8 L341.2 458.2 L346.2 456.8 L351.8 461.2 L357.0 465.8 L362.5 467.5 L372.5 468.0 L377.5 465.2 L383.0 462.2 L387.5 462.2 L393.0 465.0 L398.8 466.8 L408.8 465.2 L418.8 466.5 L428.8 463.2 L436.2 464.0 L443.8 465.0 L450.0 467.8 L455.0 468.5 L460.0 464.5 L465.0 461.5 L470.5 464.2 L475.8 467.0 L481.2 464.8 L486.2 462.8 L491.2 463.8 L496.2 466.0 L506.2 465.8 L512.0 468.0 L517.0 466.8 L522.0 464.8 L527.5 468.8 L533.0 470.8 L538.0 464.2 L543.0 461.0 L548.8 463.0 L558.8 466.5 L563.8 468.0 L568.8 466.0 L574.2 463.0 L579.2 463.2 L585.0 466.5 L590.0 468.0 L595.0 465.0 L600.0 461.0 L605.0 461.8 L610.5 467.5 L615.5 470.0 L620.5 463.0 L625.5 456.2 L631.0 457.5 L636.2 466.8 L641.2 471.2 L646.2 468.0 L651.2 466.8 L657.5 468.8 L662.5 468.5 L667.5 466.2 L672.5 463.0 L677.5 458.0 L682.0 454.8 L687.0 459.2 L692.5 472.5 L698.0 479.2 L703.0 473.2 L708.0 458.8 L713.2 449.0 L718.2 457.5 L723.8 471.2 L728.8 477.0 L734.2 476.0 L739.5 477.5 L744.5 479.2 L750.0 475.0 L755.0 461.8 L760.0 449.5 L765.0 449.5 L770.0 459.2 L775.0 468.8 L780.0 473.2 L785.8 471.8 L791.2 468.8 L796.2 468.0 L801.2 470.2 L806.8 469.0 L812.5 463.2 L817.5 459.5 L822.5 458.8 L828.8 460.5 L835.0 463.8 L841.2 470.0 L847.5 476.2 L853.0 478.2 L858.0 473.8 L863.5 465.0 L868.5 457.0 L873.5 456.2 L879.2 461.8 L885.5 467.5 L890.5 471.2 L894.8 472.8 L899.2 471.2 L904.2 466.2 L909.2 457.5 L914.8 450.5 L920.0 455.0 L925.5 463.0 L930.5 468.8 L936.0 472.0 L941.0 468.8 L946.2 465.2 L951.2 465.5 L956.8 467.2 L962.2 468.8 L967.2 468.0 L972.5 464.2 L976.8 462.5 L981.8 466.8 L987.2 469.0 L992.2 462.5 L997.5 456.2 L1002.5 458.2 L1008.0 465.0 L1013.5 471.2 L1018.0 474.2 L1023.0 472.5 L1028.5 467.5 L1034.2 465.0 L1039.2 466.2 L1044.2 469.5 L1049.8 473.2 L1055.0 474.2 L1060.0 470.0 L1065.0 468.5 L1070.0 475.0 L1075.0 481.2 L1080.0 476.8 L1085.5 462.5 L1091.8 445.0 L1098.0 428.8 L1104.2 413.8 L1110.5 403.8 L1115.5 406.2 L1120.5 420.0 L1125.5 440.0 L1131.8 467.5 L1137.2 491.2 L1142.2 508.0 L1147.5 519.2 L1152.5 517.5 L1157.5 510.0 L1163.0 503.8 L1168.5 498.8 L1173.5 490.0 L1178.5 478.8 L1183.5 472.5 L1188.8 473.8 L1194.2 476.2 L1199.2 472.5 L1204.2 462.5 L1209.2 453.0 L1214.2 447.0 L1219.8 443.8 L1225.5 445.8 L1231.8 449.2 L1236.8 450.8 L1241.8 455.0 L1246.8 463.8 L1251.8 472.5 L1256.0 476.2 L1261.0 473.8 L1266.0 461.2 L1271.0 447.5 L1276.0 439.5 L1281.8 439.2 L1286.8 443.8 L1292.2 451.2 L1297.2 462.5 L1302.2 473.8 L1307.2 481.2 L1313.0 483.0 L1318.5 478.8 L1324.2 471.8 L1329.2 462.5 L1334.2 453.8 L1338.8 450.8 L1343.5 461.2 L1348.5 476.2 L1354.2 486.2 L1360.5 492.0 L1365.5 495.0 L1370.0 495.8 L1375.0 492.5 L1380.0 482.5 L1385.0 465.0 L1390.0 446.2 L1395.0 435.5 L1400.5 434.2 L1406.0 440.0 L1411.0 446.2 L1416.5 453.0 L1421.5 459.5 L1426.5 465.8 L1431.8 470.5 L1437.0 473.5 L1442.2 473.0 L1447.2 472.0 L1452.8 472.5 L1457.8 470.5 L1463.0 466.2 L1468.0 465.8 L1473.0 466.2 L1478.5 463.8 L1483.5 462.5 L1488.5 465.0 L1493.5 460.5 L1498.5 451.8 L1504.0 449.5 L1509.2 455.5 L1514.2 458.0 L1519.8 457.8 L1524.8 463.8 L1529.8 472.5 L1534.8 477.0 L1540.2 471.2 L1545.2 464.5 L1550.5 464.2 L1555.5 469.5 L1561.0 473.0 L1566.0 472.5 L1571.0 472.0 L1576.0 475.8 L1581.0 480.2 L1586.5 478.0 L1591.5 470.8 L1596.8 467.5 L1602.2 470.0 L1607.2 470.2 L1612.2 464.5 L1617.2 455.0 L1622.2 446.2 L1627.8 443.8 L1633.0 449.2 L1638.5 455.8 L1643.5 456.2 L1648.5 454.8 L1653.5 458.8 L1658.5 469.2 L1663.5 479.0 L1669.0 479.0 L1674.0 475.8 L1679.0 474.2 L1684.0 472.5 L1689.2 467.5 L1694.8 465.0 L1699.8 468.2 L1705.2 471.2 L1710.2 470.8 L1716.0 469.5 L1721.0 468.0 L1726.0 465.5 L1731.0 461.8 L1736.0 459.0 L1741.5 460.8 L1746.5 464.2 L1751.5 463.0 L1756.8 458.0 L1762.2 456.2 L1767.2 462.0 L1772.2 468.2 L1777.2 470.5 L1782.2 469.2 L1787.2 468.5 L1792.8 470.5 L1798.0 470.8 L1803.0 466.8 L1808.5 461.8 L1814.0 463.0 L1819.0 470.5 L1824.2 474.8 L1829.2 468.8 L1834.8 461.8 L1839.8 459.5 L1845.2 459.5 L1850.2 458.8 L1855.2 457.8 L1860.2 459.0 L1865.5 463.0 L1870.5 463.8 L1876.0 460.8 L1881.0 460.0 L1886.5 461.5 L1891.5 461.2 L1896.5 463.0 L1901.5 467.5 L1906.8 470.0 L1912.2 468.8 L1917.2 468.0 L1922.2 466.2 L1927.2 463.8 L1932.8 464.5 L1938.0 466.5 L1943.0 464.2 L1948.5 462.0 L1953.5 462.0 L1959.0 464.5 L1964.2 468.8 L1969.2 471.0 L1975.0 469.5 L1981.2 467.5 L1989.5 464.5 L1995.0 466.2 L2000.0 469.2 L2005.0 469.5 L2010.0 467.5 L2015.0 465.5 L2021.2 465.0 L2026.2 463.5 L2031.2 461.8 L2036.2 462.5 L2041.8 465.0 L2046.8 464.2 L2051.2 462.0 L2055.8 460.8 L2061.2 462.2 L2067.5 463.8 L2073.8 464.0 L2080.0 464.5 L2086.2 465.0 L2092.5 465.5 L2100.0 465.2 L2105.0 465.0 L2112.8 465.5" stroke="#404040" stroke-width="2.08"/>
<path d="M303.4 353.8 L304.5 353.8 L315.0 352.5 L325.0 353.5 L335.0 352.5 L347.5 353.8 L362.5 352.8 L382.5 353.5 L395.0 353.8 L407.5 352.2 L420.0 353.0 L435.0 353.0 L447.5 352.5 L457.5 352.0 L471.2 355.0 L485.0 353.0 L492.5 352.8 L503.8 354.8 L516.2 353.0 L532.5 352.8 L543.8 353.8 L553.8 352.2 L565.0 353.8 L577.5 352.2 L590.0 354.5 L605.0 353.0 L617.5 353.2 L636.2 354.5 L650.0 353.8 L658.8 353.8 L663.8 352.0 L668.8 348.2 L673.8 344.0 L678.2 343.0 L683.2 347.5 L688.8 356.8 L693.8 365.5 L699.2 367.2 L704.2 357.5 L709.5 344.2 L714.5 336.2 L720.0 341.2 L725.0 351.2 L730.0 360.0 L735.5 367.5 L741.2 372.5 L745.8 372.0 L750.8 362.5 L756.2 347.5 L761.2 335.0 L766.2 333.2 L771.2 342.5 L776.8 354.2 L782.0 360.0 L786.2 359.2 L792.0 355.5 L797.5 352.8 L807.5 352.0 L812.5 348.8 L818.0 344.8 L823.0 345.0 L828.0 351.2 L833.8 361.2 L838.8 368.0 L843.8 367.5 L848.8 360.0 L858.0 345.0 L863.5 343.2 L869.2 346.2 L875.5 352.0 L883.0 359.5 L890.5 363.2 L895.5 361.8 L900.5 356.2 L906.0 348.8 L911.8 344.8 L916.8 345.2 L924.2 348.8 L931.8 352.0 L940.5 351.8 L946.8 353.8 L953.0 358.0 L958.0 361.2 L962.2 360.8 L968.0 355.0 L973.5 347.0 L978.8 343.0 L984.2 344.5 L990.5 352.0 L998.0 361.2 L1004.2 366.5 L1009.2 366.8 L1014.2 362.5 L1020.0 355.0 L1025.5 348.8 L1030.5 346.2 L1035.5 348.2 L1040.5 355.5 L1046.0 364.2 L1051.0 368.0 L1055.5 366.8 L1060.5 363.8 L1066.0 358.0 L1070.5 348.8 L1075.5 335.0 L1080.5 318.0 L1086.0 303.8 L1091.8 295.5 L1096.8 297.5 L1101.8 311.2 L1106.8 333.8 L1110.5 355.0 L1115.5 377.5 L1121.8 400.0 L1128.0 414.5 L1132.5 415.0 L1138.0 406.2 L1143.8 387.5 L1149.2 367.5 L1155.5 346.2 L1160.0 338.8 L1164.2 336.8 L1169.2 340.0 L1174.2 347.5 L1179.8 357.5 L1185.0 364.2 L1190.0 363.2 L1195.0 352.5 L1200.5 338.8 L1205.5 327.5 L1211.0 320.5 L1216.0 319.2 L1221.2 326.2 L1226.8 338.8 L1231.8 349.2 L1238.0 355.0 L1244.2 360.0 L1250.5 365.0 L1255.5 367.5 L1265.5 370.5 L1273.0 374.2 L1278.0 376.2 L1283.0 375.8 L1288.0 370.0 L1293.0 357.5 L1298.0 340.0 L1303.0 320.0 L1308.5 303.0 L1314.2 293.2 L1319.2 296.2 L1324.8 312.5 L1329.8 336.2 L1333.0 351.2 L1339.2 380.0 L1345.0 398.8 L1350.0 404.5 L1355.5 401.2 L1363.0 387.5 L1370.5 373.8 L1378.0 363.0 L1388.0 352.5 L1395.5 342.5 L1401.8 335.5 L1412.2 329.5 L1417.2 329.5 L1423.5 333.8 L1431.0 345.0 L1438.5 356.2 L1446.0 363.2 L1453.5 365.5 L1459.8 364.5 L1468.5 358.0 L1477.2 350.5 L1483.5 347.5 L1491.0 347.0 L1498.5 349.0 L1508.5 352.2 L1518.5 353.2 L1531.0 352.5 L1541.0 353.0 L1551.0 356.2 L1558.5 360.0 L1566.0 364.5 L1573.5 366.8 L1581.0 366.2 L1588.5 363.0 L1596.0 355.0 L1603.5 343.8 L1609.8 336.2 L1616.0 333.0 L1622.2 333.8 L1628.5 338.0 L1636.0 347.5 L1643.5 355.8 L1649.8 357.5 L1658.5 356.8 L1668.5 355.5 L1677.2 355.0 L1683.5 356.8 L1693.5 360.0 L1702.2 362.0 L1708.5 362.0 L1717.2 359.5 L1726.0 353.8 L1733.5 348.8 L1742.2 345.0 L1751.0 343.8 L1758.5 344.2 L1764.8 347.5 L1773.5 355.5 L1782.2 361.2 L1791.0 363.8 L1799.8 362.0 L1808.5 358.0 L1816.0 353.8 L1823.5 351.2 L1833.5 348.8 L1843.5 346.2 L1851.0 342.0 L1857.2 337.5 L1862.2 336.0 L1868.5 338.0 L1876.0 345.0 L1883.5 355.0 L1891.0 364.5 L1897.2 368.8 L1903.5 369.5 L1913.5 368.2 L1921.0 365.0 L1928.5 360.0 L1936.0 355.5 L1943.5 354.2 L1949.8 354.2 L1954.8 352.0 L1962.5 348.5 L1970.0 346.2 L1980.0 344.5 L1990.0 345.5 L2000.0 346.5 L2010.0 350.0 L2020.0 353.8 L2030.0 358.0 L2040.0 360.8 L2046.2 361.0 L2052.5 359.2 L2060.0 356.2 L2070.0 353.2 L2078.8 350.8 L2085.0 350.5 L2092.5 350.8 L2100.0 349.5 L2107.5 347.8 L2112.8 346.5" stroke="#404040" stroke-width="2.08"/>
<path d="M303.4 240.8 L304.5 239.5 L311.2 242.5 L316.2 248.0 L322.0 249.2 L332.0 235.0 L337.0 233.5 L347.5 236.2 L358.0 241.5 L363.8 241.2 L368.8 239.2 L375.0 239.5 L379.5 240.5 L388.8 238.8 L400.0 239.2 L410.0 241.8 L415.0 242.5 L425.0 238.0 L430.0 241.2 L435.5 246.2 L441.2 245.5 L450.0 241.2 L456.2 235.5 L461.2 233.0 L471.2 244.2 L476.2 242.0 L482.5 238.0 L487.5 237.8 L492.5 241.2 L497.5 247.5 L502.5 251.2 L512.5 244.5 L518.8 243.8 L523.8 242.0 L528.8 238.5 L537.5 237.2 L544.2 235.0 L549.2 237.5 L554.5 242.8 L564.5 240.5 L570.0 248.0 L575.0 253.2 L585.5 241.2 L595.0 241.2 L600.0 242.5 L605.5 246.2 L610.0 243.0 L616.2 236.0 L621.2 238.2 L626.2 242.0 L631.2 243.8 L636.8 248.8 L642.0 252.8 L647.5 246.2 L652.5 240.0 L662.5 235.8 L670.0 231.2 L678.8 222.5 L683.8 223.0 L688.8 236.2 L693.2 256.2 L698.8 266.8 L703.8 251.2 L709.2 229.2 L714.2 227.5 L719.5 236.2 L725.0 235.8 L729.5 237.2 L735.0 251.2 L740.2 263.2 L745.0 259.2 L750.0 243.8 L755.5 227.0 L760.8 218.8 L765.5 223.8 L771.2 235.8 L776.8 243.8 L781.8 245.2 L787.5 238.8 L792.0 231.2 L797.0 230.8 L802.0 240.5 L807.2 247.8 L812.5 244.2 L818.0 237.5 L823.0 236.0 L828.0 239.2 L833.2 244.2 L838.8 247.5 L843.8 250.0 L848.8 251.2 L858.5 246.2 L863.8 242.5 L869.2 240.0 L874.2 239.0 L879.2 235.8 L884.5 233.2 L889.8 240.5 L895.0 251.8 L900.0 249.2 L905.2 233.8 L910.5 226.5 L915.5 234.2 L921.0 239.2 L926.2 236.5 L931.2 234.8 L936.8 232.2 L941.8 231.0 L946.8 239.2 L952.0 255.8 L957.2 266.0 L962.2 259.2 L967.5 242.5 L972.8 228.5 L978.0 227.0 L983.0 238.2 L988.2 250.5 L993.5 253.5 L998.8 251.8 L1003.8 251.2 L1008.8 249.5 L1014.2 245.0 L1019.2 242.0 L1024.2 235.8 L1029.5 227.5 L1034.5 237.0 L1039.8 258.0 L1045.0 260.5 L1050.0 245.2 L1055.2 240.5 L1060.5 252.0 L1065.8 257.8 L1071.0 253.0 L1076.0 250.5 L1081.2 254.2 L1086.2 253.8 L1091.2 244.2 L1096.2 234.5 L1101.8 225.0 L1106.8 212.5 L1111.8 196.2 L1117.2 182.0 L1122.2 179.5 L1127.5 188.0 L1132.8 200.8 L1138.0 218.8 L1143.0 248.8 L1148.0 276.5 L1153.2 290.5 L1158.5 298.0 L1163.8 301.8 L1168.8 294.2 L1173.8 271.8 L1179.2 247.0 L1184.5 232.5 L1189.8 227.5 L1194.8 228.2 L1200.0 236.2 L1205.0 248.2 L1210.5 259.5 L1215.8 264.0 L1220.8 262.2 L1226.0 255.0 L1231.2 235.0 L1236.2 213.0 L1241.2 200.0 L1246.5 203.8 L1251.8 218.8 L1256.8 235.0 L1262.0 255.8 L1267.2 274.5 L1272.2 287.8 L1277.5 287.2 L1282.5 272.5 L1287.8 249.5 L1293.0 224.5 L1298.0 203.8 L1303.2 190.5 L1308.5 184.8 L1313.5 190.0 L1318.8 208.2 L1324.0 227.5 L1329.2 239.5 L1334.2 246.2 L1339.2 242.8 L1344.8 231.2 L1350.0 225.5 L1355.0 226.5 L1360.2 229.2 L1365.5 237.0 L1370.5 255.0 L1375.8 272.5 L1381.0 281.8 L1386.2 286.0 L1391.2 284.2 L1396.5 275.0 L1401.8 265.0 L1411.5 245.8 L1416.8 231.2 L1422.2 223.0 L1427.2 225.8 L1432.5 233.2 L1437.8 237.5 L1443.0 237.5 L1448.0 239.0 L1453.5 241.2 L1458.5 237.5 L1463.5 233.0 L1469.0 231.8 L1474.0 229.5 L1479.0 227.8 L1484.2 231.2 L1489.8 238.8 L1494.8 245.8 L1499.8 251.8 L1505.0 255.2 L1509.8 253.5 L1515.2 246.8 L1520.5 237.0 L1525.8 222.5 L1531.0 211.8 L1536.0 211.8 L1541.0 217.0 L1546.0 222.0 L1551.2 230.8 L1556.2 245.0 L1561.5 253.0 L1567.2 250.0 L1571.8 249.2 L1577.2 254.2 L1582.5 255.2 L1587.8 251.5 L1592.8 252.0 L1598.0 258.0 L1603.0 265.5 L1608.2 273.5 L1613.5 275.0 L1618.5 265.5 L1623.8 256.2 L1629.0 254.0 L1634.0 253.8 L1639.2 245.5 L1644.2 233.2 L1649.8 223.2 L1654.8 217.5 L1659.8 211.2 L1665.0 205.0 L1670.2 206.5 L1675.2 216.8 L1680.5 227.0 L1685.8 230.8 L1691.0 231.0 L1696.0 232.5 L1701.2 240.8 L1706.5 248.8 L1711.5 246.2 L1716.8 240.2 L1722.0 243.5 L1727.2 250.0 L1732.2 250.2 L1737.5 249.0 L1742.8 253.0 L1747.8 257.0 L1753.0 253.8 L1758.0 245.5 L1763.5 241.0 L1768.8 241.2 L1773.8 240.0 L1779.0 236.2 L1784.2 235.8 L1789.2 241.0 L1794.2 241.2 L1799.5 234.5 L1804.8 236.5 L1809.8 247.0 L1815.0 255.0 L1820.2 257.8 L1825.5 256.2 L1830.5 253.0 L1835.5 250.5 L1840.8 247.5 L1846.0 237.5 L1851.0 225.0 L1856.2 222.0 L1861.5 226.8 L1866.5 225.0 L1871.5 218.8 L1877.0 224.2 L1882.2 240.0 L1887.2 249.2 L1892.2 243.8 L1897.8 232.5 L1902.8 230.0 L1908.0 234.5 L1913.2 239.2 L1918.5 243.0 L1923.5 246.8 L1928.8 247.2 L1934.0 245.0 L1939.2 248.2 L1944.2 257.5 L1949.5 262.0 L1954.8 257.5 L1964.5 248.0 L1969.5 251.0 L1974.8 250.0 L1980.0 244.2 L1985.0 239.5 L1990.0 239.2 L1995.0 238.5 L2000.5 235.2 L2005.8 234.8 L2010.8 238.0 L2016.2 240.8 L2021.2 240.2 L2026.8 238.2 L2031.8 238.5 L2037.0 241.0 L2042.0 243.0 L2047.0 243.2 L2052.5 245.0 L2057.5 246.0 L2062.8 243.5 L2068.0 242.0 L2073.0 241.5 L2078.2 235.8 L2083.2 229.0 L2088.5 228.5 L2093.8 234.5 L2099.0 239.8 L2104.0 240.5 L2108.8 238.0 L2112.8 235.8" stroke="#0000ff" stroke-width="2.08"/>
<path d="M303.4 1474.8 L304.5 1474.8 L310.0 1473.8 L315.5 1473.8 L321.2 1475.8 L326.2 1476.6 L331.2 1473.3 L336.8 1467.1 L342.0 1464.8 L347.0 1470.1 L352.5 1478.3 L357.5 1482.1 L362.5 1481.3 L368.0 1477.1 L373.0 1472.1 L378.0 1469.1 L383.0 1469.8 L388.0 1473.6 L393.8 1476.6 L398.8 1477.6 L404.2 1477.1 L409.2 1474.1 L414.2 1470.3 L419.2 1468.8 L424.2 1470.3 L430.0 1473.3 L435.0 1475.6 L440.5 1475.8 L446.2 1475.1 L451.2 1474.1 L456.2 1472.3 L461.2 1471.6 L466.2 1473.3 L471.2 1475.1 L476.2 1476.6 L481.8 1476.8 L486.8 1473.8 L491.8 1470.3 L496.8 1468.6 L502.5 1468.1 L507.5 1470.8 L512.5 1474.1 L518.0 1476.3 L523.8 1477.8 L528.8 1478.8 L533.0 1479.8 L538.8 1482.6 L543.8 1483.6 L548.8 1477.6 L553.8 1472.1 L559.2 1471.1 L564.2 1470.8 L569.2 1470.1 L574.5 1472.8 L579.5 1477.1 L584.5 1475.3 L589.5 1467.8 L595.0 1466.8 L600.0 1474.6 L605.5 1476.6 L610.5 1469.1 L615.8 1463.6 L621.2 1465.3 L626.2 1472.1 L631.8 1479.1 L636.8 1482.8 L642.0 1484.1 L647.0 1481.6 L652.0 1477.6 L657.0 1473.3 L662.5 1465.8 L667.5 1462.6 L672.5 1469.6 L678.0 1477.1 L683.0 1479.1 L688.0 1482.1 L693.2 1487.8 L698.8 1489.8 L703.8 1487.8 L709.2 1484.6 L714.2 1478.3 L719.5 1471.6 L725.0 1469.1 L730.0 1467.6 L735.0 1467.8 L740.0 1474.1 L745.0 1478.1 L750.0 1473.3 L755.0 1463.3 L760.5 1458.3 L765.5 1462.8 L770.8 1469.6 L775.8 1470.6 L780.8 1462.1 L786.2 1452.8 L791.2 1449.8 L796.8 1455.8 L801.8 1464.1 L807.0 1467.6 L812.5 1464.1 L817.5 1461.6 L822.5 1462.1 L827.5 1468.1 L833.0 1482.1 L838.0 1494.6 L843.0 1500.8 L848.8 1505.1 L858.0 1509.6 L863.5 1507.1 L868.5 1503.3 L873.8 1495.8 L879.2 1485.8 L884.2 1477.1 L889.8 1470.1 L894.8 1468.6 L899.8 1470.8 L905.0 1473.3 L910.5 1475.8 L915.5 1475.8 L920.5 1473.8 L925.5 1473.8 L931.0 1478.3 L936.2 1482.1 L941.8 1479.1 L946.8 1475.8 L951.8 1473.8 L956.8 1467.8 L962.2 1455.8 L967.5 1442.1 L972.5 1429.6 L977.5 1418.3 L982.5 1417.8 L988.0 1425.8 L993.0 1435.8 L998.5 1449.6 L1003.8 1467.1 L1008.8 1481.6 L1014.2 1487.8 L1019.2 1492.1 L1024.2 1496.1 L1029.2 1495.8 L1034.2 1490.1 L1039.2 1484.6 L1044.2 1485.1 L1049.2 1490.8 L1054.2 1498.3 L1059.2 1508.3 L1064.8 1520.8 L1070.0 1529.6 L1075.0 1524.6 L1080.0 1503.3 L1085.0 1477.1 L1090.0 1450.8 L1095.0 1427.1 L1100.5 1412.6 L1106.0 1412.3 L1111.2 1423.3 L1116.2 1439.6 L1121.2 1460.8 L1126.8 1487.1 L1132.2 1510.8 L1137.2 1521.6 L1142.5 1515.8 L1147.5 1497.1 L1152.5 1472.1 L1157.5 1452.1 L1163.0 1442.1 L1168.0 1440.3 L1173.0 1448.3 L1178.0 1467.1 L1183.5 1490.8 L1188.8 1509.6 L1194.2 1513.3 L1199.2 1505.8 L1204.2 1492.1 L1209.2 1478.3 L1214.8 1465.8 L1220.0 1455.8 L1225.5 1447.1 L1230.5 1444.1 L1235.5 1448.3 L1240.5 1454.6 L1246.2 1460.8 L1251.2 1467.1 L1256.8 1475.3 L1261.8 1483.3 L1266.2 1486.3 L1271.2 1481.6 L1276.8 1475.8 L1282.2 1473.6 L1287.2 1474.3 L1292.2 1476.3 L1298.0 1479.1 L1303.0 1481.6 L1308.0 1483.6 L1313.0 1484.1 L1318.5 1485.8 L1323.8 1487.1 L1329.2 1485.8 L1334.2 1483.8 L1339.2 1479.6 L1344.2 1472.1 L1349.8 1465.8 L1354.8 1462.8 L1360.5 1462.1 L1366.8 1462.8 L1373.0 1464.6 L1379.2 1467.8 L1385.5 1472.1 L1390.5 1475.1 L1395.5 1473.3 L1400.5 1470.1 L1406.0 1470.1 L1411.0 1474.6 L1416.5 1475.6 L1421.5 1472.1 L1426.8 1467.1 L1432.2 1463.3 L1437.2 1462.8 L1442.8 1467.8 L1447.8 1475.8 L1452.8 1482.8 L1457.8 1482.3 L1463.0 1475.1 L1468.5 1470.1 L1473.5 1471.3 L1478.5 1473.8 L1484.0 1474.1 L1489.2 1470.8 L1494.0 1469.1 L1499.2 1470.1 L1504.8 1474.1 L1509.8 1478.8 L1515.2 1483.8 L1520.2 1486.3 L1525.2 1486.1 L1530.2 1481.3 L1535.5 1475.8 L1540.5 1475.3 L1546.0 1480.1 L1551.0 1483.8 L1556.0 1483.6 L1561.5 1481.6 L1566.5 1482.3 L1571.5 1485.3 L1576.5 1486.8 L1582.2 1482.6 L1587.2 1477.1 L1592.2 1474.6 L1597.8 1473.3 L1602.8 1469.6 L1607.8 1464.6 L1613.0 1460.1 L1618.0 1458.8 L1623.5 1462.1 L1628.5 1466.3 L1633.5 1467.1 L1638.5 1464.6 L1644.0 1462.1 L1649.0 1461.1 L1654.8 1461.6 L1661.0 1462.3 L1667.2 1463.3 L1673.5 1466.3 L1679.8 1470.1 L1684.8 1472.3 L1689.8 1474.1 L1695.2 1477.6 L1700.2 1481.1 L1705.2 1483.3 L1710.2 1483.6 L1716.0 1483.1 L1721.5 1482.6 L1726.5 1482.8 L1731.5 1482.1 L1736.5 1477.8 L1741.8 1471.3 L1746.8 1469.8 L1752.2 1476.6 L1757.2 1481.6 L1762.8 1481.3 L1768.5 1481.1 L1773.5 1481.6 L1778.5 1480.1 L1783.5 1477.6 L1788.5 1477.8 L1794.0 1480.6 L1799.0 1479.8 L1804.0 1475.8 L1809.0 1473.8 L1814.2 1475.3 L1819.2 1477.1 L1824.8 1474.6 L1829.8 1471.3 L1835.2 1472.8 L1840.2 1476.1 L1845.2 1477.1 L1851.0 1475.8 L1856.0 1474.6 L1861.0 1472.8 L1866.5 1469.1 L1871.5 1466.1 L1876.5 1467.1 L1881.8 1469.6 L1886.8 1470.3 L1892.2 1466.6 L1897.2 1462.8 L1902.2 1463.1 L1907.2 1466.6 L1912.8 1469.6 L1918.5 1471.1 L1924.0 1472.8 L1929.0 1474.6 L1934.0 1474.1 L1939.0 1473.8 L1944.0 1474.8 L1949.0 1475.8 L1954.8 1475.6 L1964.2 1480.8 L1969.2 1484.1 L1974.2 1483.3 L1980.0 1479.6 L1985.0 1476.3 L1990.0 1474.8 L1995.0 1476.3 L2000.5 1479.8 L2005.5 1481.1 L2011.2 1479.6 L2016.8 1477.8 L2021.8 1475.3 L2026.8 1471.6 L2031.8 1466.6 L2036.8 1461.6 L2041.8 1460.3 L2047.0 1465.3 L2052.0 1467.8 L2057.0 1463.6 L2062.0 1463.8 L2067.0 1469.1 L2072.5 1475.3 L2077.5 1479.6 L2082.5 1478.8 L2088.0 1474.6 L2093.0 1471.1 L2098.0 1469.8 L2103.0 1472.1 L2108.0 1476.1 L2112.8 1477.8" stroke="#808080" stroke-width="2.00"/>
<path d="M303.4 1472.9 L304.5 1472.9 L311.2 1473.4 L316.2 1475.7 L322.5 1476.4 L328.0 1473.7 L333.2 1471.9 L338.8 1474.7 L344.2 1477.4 L349.2 1475.9 L353.8 1474.2 L359.2 1476.2 L364.5 1478.2 L369.5 1475.4 L374.5 1470.4 L379.5 1469.7 L385.0 1472.9 L390.0 1475.4 L396.2 1475.9 L402.5 1474.4 L408.8 1472.7 L415.0 1473.4 L421.2 1475.2 L427.5 1475.4 L432.5 1473.4 L437.5 1470.9 L442.5 1470.7 L448.8 1472.7 L455.0 1474.7 L462.5 1474.9 L468.8 1473.4 L473.8 1472.2 L478.0 1472.4 L483.8 1474.9 L488.8 1476.9 L497.5 1476.2 L505.0 1475.7 L512.5 1474.9 L520.0 1474.7 L525.0 1474.7 L530.0 1475.7 L535.0 1474.9 L540.0 1469.7 L545.5 1466.2 L550.5 1470.4 L555.5 1476.7 L560.8 1478.4 L566.2 1475.4 L571.2 1473.4 L576.2 1473.2 L581.8 1473.9 L586.8 1473.2 L591.8 1472.2 L596.8 1475.4 L602.0 1478.9 L607.0 1475.7 L612.0 1470.9 L617.5 1473.4 L622.5 1478.9 L627.5 1477.9 L632.5 1471.2 L638.0 1465.9 L643.2 1466.7 L648.8 1470.9 L653.8 1474.4 L659.2 1477.4 L664.2 1479.9 L669.2 1477.9 L674.2 1469.2 L679.5 1460.9 L684.5 1464.4 L690.0 1476.7 L695.0 1482.2 L700.0 1478.7 L705.0 1478.9 L710.0 1482.2 L715.5 1476.2 L720.8 1467.2 L726.2 1463.7 L731.2 1467.2 L736.2 1472.9 L741.8 1477.9 L746.8 1478.9 L751.8 1476.9 L757.0 1476.7 L762.5 1478.2 L767.5 1476.4 L772.5 1471.7 L777.5 1468.2 L782.5 1468.4 L787.5 1469.2 L793.0 1469.4 L798.0 1472.2 L803.2 1478.7 L808.2 1482.9 L813.8 1480.9 L818.8 1475.4 L824.2 1472.4 L829.2 1475.2 L834.5 1479.7 L839.5 1481.9 L845.0 1479.9 L850.0 1476.2 L858.0 1477.2 L863.5 1481.2 L868.5 1483.4 L875.5 1482.9 L880.5 1483.4 L886.2 1486.2 L891.0 1486.7 L896.0 1482.4 L901.0 1474.2 L906.0 1456.7 L912.2 1435.9 L917.5 1424.2 L922.5 1418.7 L928.0 1421.7 L933.0 1435.9 L938.5 1456.7 L943.5 1476.7 L948.8 1494.2 L953.8 1506.7 L958.8 1513.2 L963.8 1514.2 L968.8 1510.9 L974.2 1501.7 L979.2 1492.9 L984.2 1488.7 L989.2 1490.9 L994.8 1497.2 L999.8 1500.9 L1004.8 1498.7 L1010.0 1490.4 L1015.0 1477.9 L1020.0 1462.2 L1025.0 1442.9 L1030.0 1425.4 L1035.5 1412.4 L1040.5 1412.9 L1046.0 1426.7 L1051.0 1446.7 L1056.2 1467.4 L1061.2 1487.9 L1066.8 1504.2 L1072.2 1512.9 L1077.2 1510.9 L1082.2 1499.2 L1087.2 1486.7 L1092.5 1477.9 L1098.0 1474.2 L1103.8 1472.9 L1109.2 1473.2 L1114.2 1475.4 L1119.2 1479.9 L1124.2 1485.4 L1128.8 1487.9 L1134.2 1485.4 L1139.2 1482.4 L1144.2 1479.2 L1149.2 1471.7 L1154.8 1460.4 L1159.8 1450.4 L1165.0 1444.7 L1170.5 1446.2 L1175.5 1453.7 L1180.5 1461.2 L1185.5 1469.7 L1191.0 1482.9 L1196.2 1496.2 L1201.2 1502.2 L1206.2 1501.7 L1211.8 1495.4 L1216.8 1486.2 L1222.2 1475.4 L1227.2 1466.7 L1232.2 1462.7 L1237.5 1465.4 L1242.5 1471.2 L1248.0 1477.9 L1253.0 1482.7 L1258.0 1482.4 L1263.0 1475.4 L1268.5 1467.9 L1273.8 1462.7 L1278.8 1459.2 L1283.8 1455.4 L1288.8 1452.2 L1294.2 1451.2 L1299.2 1456.7 L1304.8 1467.2 L1310.0 1476.7 L1315.0 1482.4 L1320.5 1485.2 L1325.5 1485.4 L1330.5 1484.4 L1335.5 1483.9 L1340.5 1484.4 L1345.5 1484.2 L1351.0 1482.4 L1356.2 1479.9 L1361.2 1477.4 L1366.8 1475.4 L1372.2 1474.9 L1377.2 1474.2 L1382.5 1472.4 L1388.0 1470.7 L1393.0 1470.4 L1398.0 1471.2 L1403.0 1472.4 L1411.5 1474.9 L1417.2 1476.7 L1422.8 1478.4 L1428.0 1478.2 L1433.0 1476.2 L1438.5 1475.2 L1444.0 1477.4 L1449.0 1479.2 L1454.0 1477.9 L1459.8 1473.4 L1465.2 1469.2 L1470.5 1467.4 L1476.0 1467.4 L1481.0 1468.7 L1486.0 1469.4 L1491.0 1468.9 L1496.0 1466.7 L1501.0 1464.2 L1506.0 1464.7 L1511.0 1468.4 L1516.5 1472.2 L1521.5 1473.2 L1527.2 1472.4 L1532.2 1473.2 L1537.2 1475.9 L1542.2 1479.2 L1547.2 1481.9 L1553.0 1483.7 L1558.5 1485.7 L1563.0 1487.4 L1568.0 1486.7 L1573.0 1482.2 L1578.0 1480.2 L1583.5 1482.7 L1588.5 1482.7 L1593.5 1477.2 L1599.0 1471.7 L1604.2 1469.2 L1609.8 1468.2 L1615.2 1467.4 L1620.2 1467.4 L1625.2 1468.7 L1630.2 1468.7 L1635.2 1465.4 L1640.2 1464.2 L1645.5 1469.2 L1651.0 1474.4 L1656.0 1475.4 L1661.5 1474.9 L1666.5 1476.2 L1671.5 1478.4 L1676.8 1478.9 L1682.2 1477.2 L1687.2 1475.2 L1693.5 1474.4 L1701.0 1473.9 L1707.2 1473.4 L1716.0 1474.4 L1723.5 1474.9 L1729.8 1476.7 L1734.8 1477.9 L1738.5 1477.7 L1744.0 1475.4 L1749.2 1473.7 L1754.2 1474.7 L1759.8 1476.2 L1764.8 1474.7 L1769.8 1471.9 L1774.8 1471.4 L1780.2 1475.2 L1785.2 1479.2 L1790.5 1478.4 L1795.5 1475.4 L1801.0 1475.4 L1806.0 1477.2 L1811.0 1475.4 L1816.0 1472.9 L1821.5 1473.4 L1826.8 1473.9 L1831.8 1470.9 L1836.8 1467.7 L1842.2 1468.2 L1847.2 1470.2 L1852.8 1469.9 L1857.8 1469.4 L1863.0 1472.2 L1868.0 1474.4 L1873.0 1470.9 L1878.0 1467.7 L1883.5 1472.2 L1889.0 1476.9 L1893.5 1477.2 L1899.0 1476.2 L1904.2 1476.2 L1909.2 1476.7 L1914.2 1476.9 L1919.8 1475.7 L1924.8 1476.2 L1930.2 1479.9 L1935.2 1481.7 L1940.5 1476.2 L1945.5 1470.9 L1950.5 1471.4 L1955.5 1474.2 L1965.0 1470.9 L1970.5 1471.4 L1976.2 1472.4 L1981.2 1471.7 L1986.2 1471.9 L1992.0 1475.2 L1997.0 1476.2 L2002.0 1472.9 L2007.0 1472.7 L2012.5 1476.7 L2017.5 1478.4 L2023.0 1476.9 L2028.0 1477.2 L2033.2 1479.2 L2038.8 1478.9 L2043.8 1475.7 L2048.8 1473.4 L2053.8 1473.2 L2061.2 1474.2 L2068.8 1474.4 L2075.0 1474.2 L2080.0 1472.9 L2084.5 1472.4 L2090.0 1473.4 L2095.0 1473.2 L2100.0 1470.9 L2105.0 1471.2 L2112.8 1475.9" stroke="#808080" stroke-width="2.00"/>
<path d="M303.4 1470.5 L304.5 1470.5 L307.5 1471.3 L312.5 1477.0 L318.0 1479.3 L323.8 1475.0 L328.8 1471.8 L333.8 1474.3 L339.2 1481.3 L344.2 1484.3 L349.2 1477.5 L354.5 1470.0 L359.5 1469.8 L365.0 1472.5 L371.2 1473.3 L376.2 1472.3 L380.5 1474.3 L386.2 1478.3 L391.2 1478.5 L396.2 1478.0 L401.2 1477.8 L406.2 1475.5 L411.2 1471.3 L416.2 1468.8 L421.8 1473.0 L427.0 1479.5 L431.8 1478.5 L436.8 1471.8 L442.0 1469.5 L447.0 1472.5 L452.5 1475.0 L458.0 1473.5 L463.0 1473.0 L468.0 1476.8 L473.8 1480.8 L478.0 1481.0 L483.8 1477.3 L489.2 1473.8 L494.2 1473.3 L499.2 1473.5 L504.2 1471.0 L509.5 1469.0 L514.5 1473.0 L519.5 1476.8 L525.0 1475.0 L530.0 1472.0 L535.0 1469.8 L540.0 1470.0 L545.0 1473.8 L550.5 1476.0 L555.5 1472.5 L560.8 1469.3 L565.8 1470.8 L571.2 1475.0 L576.2 1477.5 L581.2 1476.8 L586.8 1473.8 L591.8 1470.8 L597.0 1469.5 L602.0 1473.8 L607.5 1479.3 L612.5 1479.5 L618.0 1475.0 L623.0 1473.8 L628.2 1477.5 L633.2 1478.3 L638.8 1475.3 L643.8 1474.3 L649.2 1473.3 L654.2 1471.3 L659.2 1470.8 L664.2 1471.3 L669.2 1469.8 L674.2 1466.8 L680.0 1468.3 L685.0 1475.8 L690.5 1483.8 L695.5 1486.8 L700.5 1481.8 L705.5 1470.5 L710.8 1461.0 L715.8 1461.0 L721.2 1470.5 L726.2 1484.3 L731.2 1492.0 L736.2 1487.5 L741.8 1477.0 L746.8 1473.3 L752.0 1470.5 L757.0 1463.0 L762.5 1458.8 L767.5 1466.3 L772.5 1478.8 L778.0 1483.8 L783.0 1477.5 L788.2 1470.5 L793.2 1466.3 L798.8 1463.3 L803.8 1466.3 L809.2 1475.5 L814.2 1477.3 L819.2 1472.3 L824.2 1472.0 L829.5 1477.5 L835.0 1481.3 L840.0 1480.5 L845.0 1474.5 L850.0 1468.8 L858.0 1466.3 L863.5 1469.5 L869.2 1476.3 L876.2 1481.8 L881.2 1478.0 L886.2 1473.8 L891.8 1475.5 L897.2 1477.3 L902.2 1470.8 L907.2 1461.5 L912.2 1462.3 L917.5 1470.5 L923.0 1476.3 L928.0 1480.3 L933.0 1482.5 L938.5 1476.3 L943.5 1469.5 L948.8 1470.5 L953.8 1477.5 L959.2 1481.8 L964.2 1480.5 L969.2 1476.3 L974.2 1475.0 L979.8 1479.5 L984.8 1482.0 L990.0 1475.8 L995.0 1468.8 L1000.0 1470.3 L1005.5 1478.3 L1010.5 1482.0 L1016.0 1485.8 L1021.0 1487.3 L1026.0 1482.0 L1031.0 1477.0 L1036.2 1476.8 L1041.2 1481.3 L1046.8 1489.3 L1051.8 1493.3 L1057.2 1490.5 L1062.5 1482.5 L1067.5 1474.8 L1072.5 1468.8 L1077.5 1460.5 L1082.5 1448.8 L1087.5 1435.8 L1093.0 1428.0 L1098.0 1431.3 L1103.0 1438.8 L1108.0 1443.0 L1113.8 1442.5 L1119.2 1442.3 L1124.8 1450.0 L1129.8 1468.8 L1134.8 1491.3 L1139.8 1509.3 L1145.0 1521.3 L1150.0 1529.5 L1155.0 1533.5 L1160.0 1534.0 L1165.0 1532.5 L1170.0 1527.5 L1175.5 1516.3 L1180.5 1505.0 L1186.2 1495.8 L1191.8 1483.8 L1196.8 1468.8 L1201.8 1452.5 L1206.8 1438.8 L1212.2 1426.3 L1217.2 1417.5 L1222.5 1412.5 L1227.5 1417.5 L1232.5 1432.0 L1237.5 1446.3 L1243.0 1457.5 L1248.0 1465.0 L1253.0 1470.0 L1258.0 1469.5 L1263.0 1466.3 L1268.5 1466.5 L1273.8 1472.5 L1279.2 1478.0 L1284.2 1480.8 L1289.8 1487.0 L1294.8 1500.0 L1299.8 1512.5 L1304.8 1518.8 L1310.0 1522.5 L1315.5 1523.8 L1320.5 1510.0 L1325.5 1481.3 L1330.5 1456.3 L1335.5 1443.8 L1341.0 1435.8 L1346.2 1430.5 L1351.8 1433.3 L1356.8 1447.5 L1362.2 1465.0 L1367.2 1476.3 L1372.2 1480.5 L1377.2 1477.0 L1382.5 1467.0 L1388.0 1459.3 L1393.0 1460.0 L1398.0 1464.3 L1403.0 1467.5 L1409.8 1471.3 L1413.5 1476.8 L1418.5 1490.0 L1423.5 1503.8 L1429.0 1511.5 L1434.0 1509.8 L1439.8 1503.8 L1444.8 1497.5 L1449.8 1487.5 L1455.2 1475.8 L1460.2 1466.3 L1465.2 1458.0 L1470.5 1452.3 L1475.5 1451.8 L1480.5 1453.3 L1486.0 1452.8 L1491.0 1451.0 L1496.0 1451.5 L1501.0 1461.3 L1506.0 1476.3 L1511.5 1489.3 L1516.8 1494.0 L1522.2 1490.8 L1527.2 1487.3 L1532.2 1490.0 L1537.8 1494.8 L1542.8 1491.3 L1547.8 1482.5 L1553.0 1475.8 L1558.5 1472.3 L1563.5 1471.3 L1569.0 1472.0 L1574.0 1470.5 L1579.0 1468.0 L1584.0 1468.5 L1589.2 1469.3 L1594.2 1468.5 L1599.2 1467.3 L1604.2 1462.5 L1609.8 1455.5 L1614.8 1453.0 L1619.8 1457.5 L1624.8 1465.5 L1630.2 1472.0 L1635.5 1476.3 L1640.5 1481.8 L1645.5 1491.3 L1651.0 1496.8 L1656.0 1493.0 L1661.0 1488.0 L1666.5 1487.8 L1671.5 1486.8 L1676.8 1480.0 L1682.2 1471.8 L1687.2 1469.3 L1692.8 1470.0 L1697.8 1468.8 L1702.8 1468.5 L1708.0 1473.3 L1713.0 1475.3 L1718.0 1468.8 L1723.5 1460.5 L1728.5 1461.0 L1733.5 1469.5 L1739.0 1473.5 L1744.0 1468.8 L1749.2 1466.5 L1754.2 1470.8 L1759.2 1475.0 L1764.8 1477.3 L1769.8 1479.0 L1774.8 1477.8 L1780.2 1472.5 L1785.2 1472.0 L1790.5 1478.0 L1795.5 1481.5 L1801.0 1478.8 L1806.0 1473.3 L1811.0 1470.3 L1816.5 1472.0 L1821.5 1475.3 L1826.8 1474.8 L1831.8 1473.0 L1837.2 1471.5 L1842.2 1468.3 L1847.2 1468.0 L1852.8 1475.3 L1857.8 1480.3 L1863.0 1477.5 L1868.5 1473.8 L1873.5 1473.0 L1878.5 1474.8 L1883.5 1478.8 L1889.0 1483.3 L1894.0 1482.5 L1899.2 1477.5 L1904.2 1472.0 L1909.8 1469.0 L1914.8 1470.8 L1920.2 1473.8 L1925.2 1473.0 L1930.2 1470.5 L1935.2 1469.5 L1940.5 1473.8 L1945.5 1481.3 L1951.0 1483.0 L1956.0 1481.3 L1965.8 1480.0 L1971.2 1474.5 L1976.2 1469.8 L1981.2 1470.0 L1986.2 1470.3 L1992.0 1468.0 L1997.0 1468.3 L2002.5 1472.5 L2008.0 1475.0 L2013.8 1475.3 L2021.2 1475.8 L2027.5 1476.3 L2032.5 1475.3 L2038.0 1470.8 L2043.2 1469.0 L2048.8 1472.0 L2053.8 1475.8 L2059.2 1479.8 L2064.2 1482.0 L2069.2 1480.0 L2074.5 1474.5 L2080.0 1473.0 L2085.0 1476.8 L2090.0 1478.8 L2095.0 1473.3 L2100.0 1463.3 L2105.5 1459.5 L2110.0 1464.3 L2112.8 1467.5" stroke="#808080" stroke-width="2.00"/>
<path d="M303.4 1474.6 L304.5 1474.6 L311.2 1476.6 L316.2 1475.1 L321.8 1472.6 L327.0 1473.9 L332.5 1475.4 L337.5 1475.4 L342.5 1473.4 L348.0 1470.4 L353.0 1471.1 L358.8 1473.1 L363.8 1472.9 L368.8 1470.9 L373.0 1470.1 L378.0 1471.6 L383.8 1473.6 L393.8 1473.4 L403.8 1473.6 L409.2 1476.1 L414.5 1477.9 L420.0 1477.9 L427.5 1476.4 L435.0 1474.6 L440.0 1472.6 L445.0 1470.4 L450.0 1472.6 L455.5 1476.4 L461.2 1476.6 L466.2 1474.9 L471.2 1473.1 L476.2 1472.6 L481.2 1473.9 L486.8 1477.4 L492.0 1481.4 L497.0 1480.6 L502.0 1473.4 L507.5 1467.1 L512.5 1470.9 L518.0 1477.4 L523.2 1478.1 L528.8 1475.4 L533.8 1471.4 L538.8 1467.4 L543.8 1467.9 L548.8 1472.9 L554.2 1478.1 L559.2 1478.6 L565.0 1475.6 L570.0 1473.6 L575.0 1473.4 L582.5 1473.9 L590.0 1473.4 L595.5 1475.4 L600.5 1475.1 L605.5 1470.9 L610.5 1467.9 L616.2 1470.4 L621.8 1472.6 L627.5 1472.1 L632.5 1471.4 L637.5 1472.6 L646.2 1476.4 L652.5 1482.1 L657.5 1485.9 L662.5 1484.6 L667.5 1479.1 L673.0 1473.4 L678.0 1468.9 L683.0 1466.9 L688.0 1473.9 L693.2 1482.9 L698.8 1477.9 L703.8 1470.9 L709.2 1475.9 L714.2 1477.9 L719.2 1468.4 L724.5 1459.4 L729.5 1460.6 L734.5 1471.6 L740.0 1480.6 L745.0 1480.9 L750.0 1477.9 L755.5 1474.1 L760.5 1474.6 L765.8 1479.6 L771.2 1480.1 L776.2 1473.4 L781.2 1466.9 L786.2 1466.1 L791.2 1469.4 L796.8 1472.4 L802.0 1475.9 L807.0 1477.4 L812.5 1475.9 L820.0 1475.1 L827.5 1474.1 L833.8 1475.6 L838.8 1475.4 L843.8 1472.1 L848.8 1468.6 L858.0 1472.1 L863.5 1477.6 L868.5 1477.6 L873.5 1474.6 L878.8 1472.9 L884.2 1474.1 L890.5 1475.1 L895.5 1476.1 L900.5 1477.6 L905.5 1473.9 L910.5 1469.4 L915.5 1468.1 L920.5 1469.4 L925.5 1472.9 L931.0 1476.4 L936.2 1479.6 L941.0 1480.4 L946.2 1476.4 L951.8 1475.1 L957.2 1475.6 L962.2 1473.9 L967.5 1472.6 L973.0 1472.6 L977.5 1473.9 L982.5 1477.1 L987.5 1478.6 L993.0 1476.9 L998.0 1474.9 L1002.5 1475.4 L1008.0 1480.1 L1013.5 1483.1 L1018.5 1477.9 L1023.8 1468.9 L1029.2 1464.6 L1034.2 1467.1 L1039.8 1470.1 L1045.0 1469.6 L1050.5 1468.9 L1055.5 1469.4 L1060.5 1470.6 L1065.5 1472.9 L1070.5 1476.4 L1075.5 1480.1 L1080.5 1480.9 L1085.5 1477.9 L1091.0 1474.4 L1096.0 1475.1 L1101.8 1477.6 L1106.8 1477.1 L1113.0 1474.1 L1119.2 1472.9 L1128.0 1472.6 L1136.8 1473.4 L1143.0 1476.4 L1148.0 1478.4 L1153.0 1478.6 L1158.0 1477.6 L1163.5 1475.9 L1168.5 1472.9 L1173.5 1467.1 L1178.5 1459.6 L1183.0 1449.6 L1188.8 1440.1 L1194.2 1434.9 L1199.8 1437.6 L1204.8 1448.4 L1209.8 1462.1 L1215.5 1478.4 L1220.5 1495.9 L1225.5 1515.9 L1230.5 1528.4 L1236.0 1535.9 L1241.0 1532.9 L1246.2 1522.1 L1251.8 1508.4 L1256.8 1494.6 L1262.2 1481.6 L1267.2 1472.6 L1272.2 1466.4 L1277.2 1462.6 L1282.2 1460.6 L1287.2 1458.9 L1292.2 1455.4 L1297.5 1451.6 L1303.0 1450.4 L1308.0 1449.6 L1313.0 1446.6 L1318.0 1440.9 L1323.0 1436.6 L1328.0 1436.1 L1333.0 1441.4 L1338.0 1453.4 L1343.5 1468.4 L1349.2 1480.9 L1354.2 1488.4 L1359.2 1492.1 L1364.2 1495.9 L1369.8 1499.6 L1375.0 1500.4 L1380.0 1493.9 L1385.0 1485.9 L1390.5 1481.9 L1395.5 1481.4 L1400.5 1483.4 L1406.0 1487.1 L1411.5 1489.1 L1416.5 1489.1 L1421.5 1487.1 L1426.8 1483.4 L1431.8 1478.4 L1437.2 1472.9 L1442.8 1469.1 L1447.8 1467.1 L1452.8 1463.4 L1457.8 1459.9 L1463.0 1459.9 L1468.5 1463.9 L1473.5 1467.4 L1478.5 1468.6 L1484.0 1467.6 L1489.8 1466.6 L1494.8 1466.4 L1500.2 1465.6 L1505.2 1465.6 L1510.2 1467.9 L1515.2 1472.1 L1520.2 1475.4 L1525.5 1476.4 L1530.5 1477.1 L1536.0 1479.9 L1541.0 1481.4 L1546.0 1480.9 L1551.0 1480.1 L1556.0 1479.1 L1561.0 1476.9 L1566.0 1473.4 L1571.5 1469.9 L1576.5 1470.6 L1581.5 1474.1 L1587.2 1475.9 L1592.2 1475.6 L1597.2 1476.6 L1602.8 1479.6 L1608.0 1480.9 L1613.0 1479.1 L1618.0 1475.4 L1623.5 1471.6 L1628.5 1471.4 L1633.5 1475.4 L1639.0 1479.1 L1644.0 1477.4 L1649.0 1474.1 L1654.0 1474.4 L1659.8 1477.1 L1665.2 1478.4 L1670.2 1476.6 L1675.5 1474.4 L1681.0 1473.6 L1686.0 1472.9 L1691.0 1470.4 L1696.0 1466.4 L1701.0 1463.9 L1706.0 1465.1 L1711.5 1469.4 L1716.5 1471.4 L1721.5 1468.9 L1726.5 1468.1 L1732.2 1470.9 L1737.8 1472.4 L1742.8 1472.6 L1747.8 1476.4 L1752.8 1480.1 L1757.8 1480.4 L1763.5 1477.4 L1769.8 1474.9 L1778.5 1473.6 L1788.5 1473.9 L1798.5 1473.1 L1808.5 1474.1 L1814.8 1473.4 L1819.8 1473.9 L1824.8 1477.6 L1829.8 1480.1 L1834.8 1478.4 L1840.2 1474.6 L1845.2 1474.1 L1850.5 1477.1 L1856.0 1480.6 L1861.0 1481.6 L1866.0 1478.9 L1871.5 1474.9 L1876.5 1475.1 L1881.8 1477.9 L1886.8 1476.9 L1892.2 1472.9 L1897.2 1471.1 L1902.2 1470.4 L1907.8 1469.1 L1912.8 1469.9 L1918.5 1472.9 L1923.5 1474.1 L1928.5 1474.1 L1933.5 1472.1 L1939.0 1468.9 L1944.0 1468.4 L1949.0 1472.1 L1954.0 1476.4 L1959.0 1478.4 L1963.8 1478.1 L1969.2 1476.6 L1975.0 1474.4 L1980.0 1472.4 L1985.0 1472.1 L1990.0 1473.9 L1995.5 1476.4 L2000.0 1477.1 L2005.0 1474.4 L2010.0 1470.4 L2015.5 1469.1 L2021.2 1472.6 L2026.8 1475.9 L2031.2 1475.6 L2036.8 1472.6 L2041.2 1472.1 L2046.8 1473.6 L2052.5 1475.1 L2056.8 1475.4 L2062.5 1473.6 L2067.5 1472.6 L2072.5 1474.9 L2078.0 1477.1 L2083.2 1476.1 L2088.8 1472.1 L2093.8 1469.1 L2098.8 1469.9 L2103.8 1472.9 L2108.8 1474.6 L2112.8 1475.1" stroke="#808080" stroke-width="2.00"/>
<path d="M303.4 1473.5 L304.5 1473.5 L311.2 1476.5 L316.2 1475.8 L322.5 1474.0 L332.0 1475.0 L337.5 1472.5 L343.0 1469.8 L348.8 1470.8 L353.8 1472.2 L358.8 1471.8 L363.8 1470.8 L368.8 1472.0 L373.8 1475.0 L378.8 1477.8 L383.8 1477.2 L388.8 1475.0 L393.8 1472.8 L399.2 1472.0 L403.8 1473.2 L409.2 1476.2 L414.5 1478.0 L419.5 1476.5 L425.0 1474.5 L430.0 1471.8 L435.5 1467.5 L440.8 1469.0 L445.8 1475.0 L450.8 1480.0 L456.2 1479.5 L461.2 1475.0 L466.8 1469.2 L471.2 1467.2 L476.2 1468.5 L485.0 1470.8 L492.5 1473.0 L498.8 1475.2 L503.0 1477.2 L507.5 1477.2 L512.5 1473.0 L518.0 1471.2 L523.0 1474.8 L528.0 1476.8 L533.8 1474.2 L538.8 1473.2 L544.2 1476.2 L548.8 1476.2 L553.8 1471.8 L559.2 1470.0 L564.5 1474.2 L569.5 1476.5 L575.0 1474.0 L580.0 1473.2 L585.5 1475.8 L590.5 1476.5 L596.2 1474.8 L605.0 1474.2 L611.2 1469.5 L616.2 1466.8 L621.2 1473.0 L626.2 1480.0 L631.8 1481.5 L636.8 1478.0 L641.8 1475.0 L646.8 1474.0 L652.5 1476.2 L657.5 1480.5 L663.0 1479.8 L668.0 1473.0 L673.0 1467.5 L678.0 1467.5 L683.8 1473.5 L688.8 1478.2 L693.8 1479.2 L699.2 1477.8 L705.0 1475.5 L710.0 1473.5 L715.0 1473.2 L720.0 1474.2 L725.0 1472.0 L730.0 1467.5 L735.5 1471.0 L740.5 1479.8 L745.5 1480.5 L750.5 1473.5 L755.5 1471.5 L761.2 1475.5 L766.2 1477.5 L771.2 1476.0 L776.8 1475.0 L782.5 1476.0 L787.5 1476.5 L792.5 1474.2 L797.5 1470.8 L802.5 1469.2 L807.5 1470.8 L812.5 1472.8 L817.5 1472.0 L822.5 1469.2 L827.5 1471.2 L833.0 1478.0 L838.2 1481.0 L843.2 1474.2 L848.0 1466.0 L853.0 1463.0 L858.0 1467.5 L863.5 1470.5 L868.5 1471.2 L874.2 1469.2 L879.2 1462.5 L884.8 1456.0 L890.0 1461.8 L895.0 1475.5 L900.0 1481.2 L905.0 1482.0 L910.5 1488.0 L916.0 1496.2 L921.8 1502.2 L927.2 1507.2 L932.5 1511.2 L937.2 1512.8 L942.2 1511.2 L947.2 1505.5 L952.2 1493.0 L957.2 1480.5 L962.2 1468.5 L967.5 1453.0 L972.5 1437.2 L977.5 1425.5 L983.0 1417.5 L988.0 1412.2 L993.5 1418.8 L998.5 1436.8 L1003.8 1457.5 L1008.8 1473.0 L1014.2 1482.5 L1019.2 1488.5 L1024.2 1492.8 L1029.2 1491.2 L1034.8 1487.5 L1039.8 1489.2 L1044.8 1494.0 L1049.8 1495.5 L1055.5 1495.0 L1060.5 1493.2 L1066.0 1487.2 L1071.0 1483.5 L1076.0 1483.0 L1081.0 1481.0 L1086.0 1476.0 L1091.2 1468.8 L1096.8 1461.8 L1101.8 1462.2 L1106.8 1468.5 L1112.2 1472.5 L1117.2 1468.5 L1122.2 1460.5 L1127.2 1458.8 L1132.5 1465.0 L1138.0 1471.2 L1143.0 1475.5 L1148.0 1479.2 L1153.5 1482.8 L1158.5 1481.8 L1163.8 1477.2 L1169.2 1474.5 L1175.5 1473.2 L1181.8 1472.2 L1188.0 1471.8 L1194.2 1472.2 L1200.5 1474.0 L1205.5 1476.2 L1210.5 1477.2 L1215.5 1474.2 L1220.5 1470.0 L1226.0 1465.5 L1231.0 1460.5 L1236.2 1458.8 L1241.2 1463.0 L1246.8 1472.5 L1251.8 1481.0 L1256.8 1487.2 L1262.2 1491.8 L1267.2 1493.5 L1273.0 1493.2 L1278.0 1489.8 L1283.0 1481.8 L1288.0 1474.8 L1293.5 1474.0 L1298.5 1474.2 L1304.2 1472.8 L1309.2 1473.0 L1314.2 1475.5 L1319.2 1474.5 L1324.2 1467.5 L1329.2 1459.2 L1334.2 1454.0 L1339.2 1454.2 L1344.2 1460.5 L1349.8 1468.0 L1355.0 1470.5 L1360.0 1473.8 L1365.0 1483.0 L1370.5 1491.5 L1375.5 1492.0 L1380.5 1488.5 L1386.0 1483.0 L1391.8 1476.2 L1396.8 1472.2 L1401.8 1470.5 L1411.5 1467.5 L1416.5 1467.0 L1422.2 1469.5 L1427.8 1471.2 L1433.5 1471.8 L1438.5 1472.2 L1443.5 1473.2 L1448.5 1472.8 L1452.8 1473.5 L1458.5 1478.5 L1464.0 1483.2 L1469.0 1483.0 L1474.0 1481.5 L1479.0 1481.5 L1484.0 1483.5 L1489.8 1485.5 L1494.8 1485.8 L1499.8 1484.2 L1504.8 1480.5 L1509.8 1473.8 L1515.2 1466.0 L1520.2 1465.8 L1525.2 1470.5 L1530.2 1468.0 L1535.2 1459.8 L1540.5 1454.0 L1545.5 1455.0 L1551.0 1461.0 L1556.5 1469.0 L1561.5 1474.0 L1566.5 1474.5 L1571.5 1473.8 L1576.5 1475.2 L1582.2 1478.5 L1587.2 1478.8 L1592.2 1478.5 L1597.2 1480.5 L1602.8 1481.0 L1608.0 1480.0 L1613.5 1483.0 L1618.5 1486.0 L1623.5 1483.8 L1628.5 1477.5 L1633.5 1474.0 L1638.5 1472.8 L1644.0 1470.5 L1649.8 1469.0 L1654.8 1469.5 L1660.2 1470.2 L1665.2 1472.0 L1669.8 1473.5 L1675.2 1470.8 L1680.5 1469.8 L1685.5 1476.8 L1691.0 1480.5 L1696.0 1474.5 L1701.0 1471.5 L1706.5 1475.5 L1711.5 1476.5 L1716.5 1475.0 L1722.2 1476.8 L1727.2 1478.8 L1732.2 1477.2 L1737.8 1474.5 L1746.0 1473.0 L1752.8 1471.8 L1758.5 1473.0 L1764.0 1472.5 L1769.0 1470.8 L1774.0 1472.2 L1779.0 1473.5 L1784.0 1471.5 L1789.0 1470.8 L1794.8 1471.8 L1802.2 1472.5 L1807.2 1473.5 L1813.5 1474.5 L1819.8 1474.8 L1824.8 1476.5 L1829.8 1477.2 L1835.2 1474.0 L1840.2 1472.8 L1845.5 1478.2 L1851.0 1484.0 L1856.0 1482.8 L1861.5 1474.5 L1866.5 1468.8 L1871.8 1470.2 L1877.2 1473.0 L1882.2 1472.0 L1887.2 1471.8 L1892.2 1476.2 L1897.2 1480.2 L1902.8 1477.0 L1907.8 1472.5 L1912.8 1471.0 L1918.0 1473.0 L1923.0 1476.2 L1928.5 1475.5 L1933.5 1470.5 L1938.5 1467.2 L1943.5 1468.0 L1948.5 1471.0 L1953.5 1472.5 L1959.0 1472.0 L1965.0 1472.2 L1971.2 1472.5 L1977.5 1472.0 L1985.0 1471.5 L1990.8 1472.0 L1996.2 1474.0 L2001.2 1473.8 L2006.2 1470.8 L2011.2 1472.5 L2016.2 1478.5 L2021.2 1479.0 L2026.2 1474.5 L2031.2 1474.2 L2036.8 1478.0 L2041.8 1476.2 L2047.0 1472.8 L2052.0 1474.0 L2057.5 1474.8 L2063.2 1473.5 L2068.8 1474.2 L2073.0 1472.8 L2078.0 1468.5 L2083.2 1468.2 L2088.2 1474.2 L2093.8 1481.2 L2098.8 1477.5 L2103.8 1468.0 L2108.8 1466.8 L2112.8 1471.8" stroke="#808080" stroke-width="2.00"/>
<path d="M303.4 1472.6 L304.5 1472.6 L310.0 1471.6 L315.5 1473.8 L321.2 1475.8 L330.0 1475.1 L340.0 1474.8 L351.2 1475.1 L361.2 1473.1 L372.5 1475.3 L382.5 1473.6 L393.0 1475.3 L403.8 1473.3 L413.8 1474.8 L419.5 1475.1 L428.8 1472.6 L440.0 1474.1 L450.0 1474.8 L460.0 1475.8 L468.8 1475.6 L475.0 1473.6 L481.2 1471.3 L486.2 1470.3 L491.2 1471.8 L496.8 1474.1 L502.0 1475.1 L507.5 1477.8 L512.0 1480.6 L517.0 1478.1 L522.5 1473.6 L527.5 1470.6 L532.5 1470.8 L537.5 1473.1 L547.5 1474.6 L553.8 1477.6 L558.8 1476.8 L563.8 1473.3 L568.8 1470.6 L573.8 1471.3 L579.2 1474.1 L588.8 1475.6 L595.0 1477.3 L600.0 1476.3 L605.0 1473.1 L610.0 1469.3 L615.0 1469.1 L620.0 1473.1 L625.0 1476.3 L630.0 1477.8 L635.0 1477.6 L640.0 1475.3 L645.5 1473.1 L653.8 1471.1 L661.2 1466.8 L666.8 1464.6 L671.8 1470.1 L676.8 1477.1 L681.8 1481.3 L687.0 1481.3 L692.0 1477.8 L697.5 1474.1 L702.5 1473.1 L708.0 1475.1 L713.0 1476.6 L718.8 1475.8 L723.8 1474.3 L729.2 1473.6 L734.2 1475.1 L739.5 1477.1 L744.5 1477.6 L750.0 1473.8 L755.0 1468.8 L760.0 1466.3 L765.0 1468.8 L770.0 1474.3 L775.0 1478.3 L780.0 1478.8 L785.8 1475.8 L790.8 1472.8 L795.8 1473.6 L801.2 1479.3 L806.2 1483.8 L811.2 1481.3 L816.2 1473.1 L821.8 1467.3 L826.8 1469.6 L832.0 1474.6 L837.0 1476.3 L842.5 1475.1 L847.5 1473.8 L853.0 1474.3 L858.0 1475.6 L863.0 1475.8 L868.0 1472.6 L873.0 1467.6 L878.0 1463.8 L883.5 1465.8 L888.8 1474.3 L894.2 1479.8 L899.2 1477.8 L904.2 1473.1 L909.2 1471.8 L914.8 1475.1 L920.0 1477.8 L925.5 1475.1 L930.5 1468.8 L935.5 1462.6 L940.5 1460.3 L945.5 1464.6 L951.0 1471.3 L956.0 1473.3 L961.8 1471.3 L966.8 1469.8 L971.8 1472.1 L977.2 1478.3 L982.5 1484.3 L988.0 1488.8 L993.0 1492.6 L998.0 1497.6 L1002.2 1502.6 L1007.5 1504.6 L1013.0 1499.6 L1018.0 1491.3 L1023.0 1482.6 L1028.0 1473.8 L1033.5 1465.8 L1038.5 1465.1 L1043.5 1469.6 L1048.8 1474.3 L1054.2 1476.6 L1059.2 1474.6 L1064.8 1466.3 L1069.2 1452.6 L1074.2 1433.8 L1079.2 1420.1 L1084.8 1412.1 L1090.0 1418.3 L1095.5 1437.6 L1100.5 1465.1 L1105.5 1492.6 L1110.5 1515.8 L1116.0 1527.6 L1121.0 1524.3 L1126.2 1512.6 L1131.8 1498.8 L1136.8 1486.3 L1141.8 1474.3 L1147.2 1468.1 L1152.2 1469.6 L1157.5 1474.6 L1163.0 1479.1 L1168.0 1478.3 L1173.5 1473.3 L1178.5 1465.8 L1183.8 1459.1 L1188.8 1457.3 L1193.8 1462.6 L1199.2 1470.1 L1204.2 1474.6 L1209.2 1477.1 L1214.2 1477.8 L1219.2 1475.8 L1224.2 1469.3 L1229.2 1461.8 L1234.8 1458.1 L1240.0 1461.8 L1245.5 1471.3 L1251.0 1480.8 L1256.0 1487.6 L1261.0 1489.6 L1266.0 1487.6 L1271.0 1483.1 L1276.2 1475.8 L1281.8 1468.8 L1287.2 1465.3 L1292.2 1464.1 L1297.2 1465.1 L1303.0 1470.6 L1308.0 1476.3 L1313.0 1480.6 L1318.5 1483.3 L1324.2 1484.8 L1329.2 1483.8 L1334.2 1481.3 L1339.2 1478.1 L1344.2 1475.3 L1349.2 1475.8 L1354.2 1478.3 L1359.2 1480.6 L1365.5 1480.8 L1374.2 1480.6 L1379.2 1479.3 L1385.5 1476.3 L1391.8 1472.6 L1398.0 1468.1 L1403.0 1465.6 L1412.2 1463.3 L1419.8 1463.3 L1426.0 1464.1 L1431.0 1466.3 L1437.2 1471.3 L1443.5 1475.1 L1449.8 1476.1 L1457.2 1473.6 L1462.2 1473.6 L1468.5 1475.3 L1473.5 1474.6 L1478.5 1472.1 L1484.8 1470.6 L1491.0 1471.6 L1498.5 1475.1 L1504.8 1475.3 L1512.2 1473.8 L1519.8 1474.6 L1528.5 1473.8 L1534.8 1475.1 L1541.0 1477.1 L1548.5 1478.3 L1556.0 1481.3 L1563.5 1484.3 L1569.8 1485.6 L1576.0 1485.3 L1581.0 1482.1 L1586.0 1476.8 L1591.5 1471.8 L1597.2 1469.1 L1604.8 1466.8 L1611.0 1467.1 L1618.5 1468.1 L1627.2 1466.6 L1633.5 1467.1 L1639.8 1468.6 L1646.0 1467.1 L1652.2 1466.6 L1657.2 1468.6 L1663.5 1471.3 L1669.8 1472.8 L1674.8 1475.6 L1679.8 1478.3 L1687.2 1479.8 L1696.0 1480.8 L1702.2 1479.3 L1709.8 1476.8 L1716.0 1474.3 L1722.2 1472.8 L1728.5 1473.1 L1736.0 1473.8 L1742.2 1476.8 L1747.2 1479.3 L1752.2 1479.6 L1758.5 1478.1 L1766.0 1478.8 L1772.2 1477.3 L1777.2 1473.8 L1782.8 1471.1 L1787.8 1471.6 L1793.5 1473.3 L1799.8 1474.6 L1806.0 1474.6 L1812.2 1473.3 L1818.5 1470.6 L1824.0 1468.3 L1829.0 1469.6 L1834.0 1472.6 L1839.0 1471.6 L1844.0 1467.6 L1849.8 1465.6 L1856.0 1468.3 L1862.2 1470.8 L1868.5 1473.3 L1876.0 1477.1 L1883.5 1479.6 L1891.0 1480.3 L1898.5 1480.1 L1904.8 1480.1 L1909.8 1478.3 L1916.0 1474.3 L1921.5 1473.1 L1927.2 1475.8 L1932.2 1477.8 L1938.5 1477.6 L1946.0 1476.6 L1953.5 1476.6 L1959.0 1477.3 L1965.0 1475.6 L1971.2 1474.3 L1978.8 1474.1 L1985.0 1471.3 L1990.0 1468.8 L1995.0 1468.1 L2001.2 1468.8 L2008.8 1470.1 L2015.0 1473.1 L2020.0 1475.6 L2025.0 1476.3 L2030.0 1474.8 L2036.2 1473.6 L2042.5 1474.6 L2050.0 1476.1 L2055.0 1475.3 L2062.5 1472.8 L2070.0 1472.3 L2077.5 1471.8 L2082.5 1471.6 L2088.8 1473.8 L2093.8 1475.1 L2098.8 1474.1 L2105.0 1471.8 L2112.8 1470.3" stroke="#808080" stroke-width="2.00"/>
<path d="M303.4 1475.4 L304.5 1475.4 L310.0 1472.2 L315.5 1471.7 L321.2 1473.9 L327.0 1475.9 L336.2 1474.4 L343.8 1474.7 L348.8 1472.9 L353.0 1470.9 L358.0 1471.2 L363.8 1474.2 L369.5 1476.4 L378.8 1473.9 L388.8 1474.9 L398.8 1473.9 L407.5 1472.7 L416.2 1472.7 L426.2 1474.9 L436.2 1472.7 L443.8 1472.9 L451.2 1474.9 L457.5 1476.4 L470.0 1473.9 L478.0 1474.9 L483.8 1473.4 L488.8 1471.7 L496.2 1473.2 L502.5 1473.7 L508.8 1473.4 L513.8 1475.2 L519.2 1476.9 L525.0 1474.2 L530.0 1472.2 L536.2 1474.4 L545.0 1476.4 L552.5 1475.2 L560.0 1473.9 L567.5 1474.2 L575.0 1472.9 L581.2 1472.4 L586.2 1474.4 L591.2 1477.7 L596.8 1477.9 L601.8 1472.9 L607.0 1468.9 L612.5 1472.2 L617.5 1478.7 L622.5 1479.4 L627.5 1475.2 L632.5 1471.7 L637.5 1472.7 L643.0 1474.4 L648.0 1472.9 L653.0 1471.7 L658.8 1473.2 L664.2 1474.2 L669.2 1472.2 L674.2 1469.4 L679.2 1469.9 L684.2 1474.7 L689.5 1479.2 L694.5 1481.4 L699.5 1480.9 L704.5 1475.9 L710.0 1467.7 L715.0 1465.7 L720.0 1470.9 L725.0 1474.2 L730.5 1472.7 L735.5 1475.4 L740.8 1481.7 L746.2 1483.2 L751.2 1475.9 L756.8 1467.9 L762.0 1465.9 L767.5 1468.9 L773.8 1472.2 L780.0 1474.7 L786.2 1476.7 L792.5 1477.7 L798.8 1476.4 L806.2 1474.2 L815.0 1472.7 L823.0 1471.2 L828.8 1472.9 L836.2 1476.4 L843.8 1478.7 L848.8 1477.7 L863.0 1474.4 L870.5 1473.2 L876.8 1472.4 L880.5 1473.4 L885.5 1476.4 L891.0 1478.7 L896.0 1477.9 L901.0 1474.7 L906.0 1471.7 L911.8 1470.9 L920.5 1470.9 L926.8 1471.7 L931.8 1474.2 L937.2 1477.2 L942.2 1477.4 L947.2 1473.9 L952.5 1471.4 L958.0 1472.4 L965.5 1474.7 L973.0 1476.7 L979.2 1475.2 L984.2 1473.4 L989.2 1473.7 L995.5 1474.7 L1003.0 1474.4 L1009.2 1475.9 L1015.0 1478.4 L1020.5 1478.9 L1025.5 1475.9 L1031.0 1472.7 L1038.0 1471.4 L1045.5 1470.7 L1050.5 1473.4 L1056.0 1477.7 L1061.8 1479.7 L1068.0 1479.2 L1075.5 1478.4 L1081.8 1477.2 L1086.8 1473.4 L1093.0 1465.9 L1099.2 1458.4 L1104.2 1454.7 L1108.0 1453.7 L1113.0 1455.9 L1118.0 1460.2 L1123.0 1466.4 L1128.0 1475.9 L1133.5 1486.4 L1138.5 1492.9 L1143.8 1496.4 L1148.8 1497.7 L1153.8 1493.9 L1158.8 1485.9 L1164.2 1477.7 L1169.2 1472.9 L1174.2 1470.2 L1179.2 1469.7 L1184.2 1472.2 L1190.0 1478.9 L1195.5 1482.2 L1200.5 1479.7 L1205.5 1475.4 L1211.8 1470.9 L1218.0 1467.7 L1223.0 1465.4 L1226.8 1464.4 L1231.8 1466.7 L1238.0 1470.4 L1245.5 1473.9 L1253.0 1478.9 L1258.0 1480.9 L1263.0 1478.4 L1268.0 1473.4 L1273.0 1469.2 L1278.0 1467.2 L1283.0 1466.7 L1289.2 1468.4 L1294.2 1471.4 L1299.2 1473.9 L1304.2 1474.7 L1310.5 1473.7 L1319.8 1473.7 L1324.8 1469.7 L1329.8 1464.4 L1335.0 1464.7 L1340.0 1473.4 L1345.5 1482.2 L1350.5 1485.4 L1355.5 1486.9 L1361.8 1489.2 L1366.8 1488.9 L1371.8 1485.4 L1378.0 1479.7 L1384.2 1474.2 L1390.5 1469.2 L1396.8 1464.9 L1401.8 1465.4 L1412.2 1470.2 L1417.2 1469.2 L1423.0 1468.9 L1428.0 1472.2 L1433.5 1477.2 L1438.5 1479.4 L1443.5 1477.4 L1449.0 1473.7 L1453.5 1474.2 L1459.0 1477.9 L1464.8 1479.7 L1469.8 1478.9 L1474.8 1476.4 L1479.8 1473.4 L1489.8 1471.9 L1495.2 1465.9 L1500.5 1462.2 L1506.0 1465.9 L1511.0 1472.7 L1517.2 1476.4 L1523.5 1477.9 L1528.5 1478.4 L1532.2 1477.2 L1537.2 1473.4 L1542.2 1469.7 L1547.2 1470.2 L1552.2 1473.9 L1557.8 1477.7 L1563.5 1479.7 L1571.0 1479.9 L1578.5 1480.9 L1583.5 1481.4 L1589.8 1479.7 L1596.0 1476.7 L1602.2 1475.9 L1607.2 1475.2 L1611.0 1472.2 L1614.8 1467.7 L1619.0 1465.9 L1624.8 1468.4 L1630.2 1470.4 L1635.2 1469.4 L1639.8 1469.2 L1644.8 1470.7 L1649.8 1473.4 L1654.8 1474.9 L1660.5 1472.4 L1666.0 1470.2 L1671.0 1471.2 L1676.0 1476.4 L1681.0 1480.9 L1686.0 1481.7 L1691.0 1480.4 L1696.0 1477.9 L1701.5 1472.9 L1707.2 1468.7 L1712.2 1469.2 L1717.2 1474.7 L1722.8 1479.9 L1728.0 1480.9 L1733.5 1479.2 L1738.5 1476.4 L1744.0 1473.4 L1752.2 1471.4 L1758.5 1468.4 L1764.8 1465.7 L1769.8 1465.7 L1774.8 1467.9 L1779.8 1469.9 L1784.8 1471.4 L1789.8 1474.7 L1795.2 1478.9 L1800.2 1478.7 L1805.2 1474.7 L1811.0 1470.9 L1818.5 1469.2 L1828.5 1466.4 L1836.0 1465.2 L1842.2 1462.2 L1847.2 1460.7 L1852.2 1462.2 L1857.2 1465.4 L1862.2 1470.4 L1867.2 1478.4 L1872.2 1487.2 L1877.2 1493.9 L1882.2 1500.9 L1887.8 1508.4 L1893.0 1511.4 L1898.0 1507.9 L1903.0 1505.9 L1908.0 1508.9 L1913.5 1509.9 L1919.0 1501.4 L1924.8 1485.9 L1929.8 1470.9 L1934.8 1454.7 L1939.8 1437.2 L1944.8 1423.9 L1949.8 1416.4 L1954.8 1412.7 L1964.2 1425.9 L1969.2 1440.4 L1975.0 1458.4 L1980.0 1472.9 L1985.0 1482.7 L1990.0 1487.7 L1995.5 1491.2 L2001.2 1493.4 L2006.2 1491.7 L2011.2 1485.9 L2016.2 1477.2 L2021.8 1468.9 L2027.5 1465.7 L2032.5 1468.4 L2037.5 1474.7 L2042.5 1483.4 L2047.5 1494.7 L2053.0 1506.4 L2058.2 1511.7 L2063.8 1509.2 L2068.8 1502.9 L2074.2 1492.2 L2079.2 1477.2 L2084.5 1462.2 L2090.0 1451.4 L2095.0 1446.2 L2100.0 1447.2 L2105.0 1452.2 L2112.8 1458.4" stroke="#808080" stroke-width="2.00"/>
<path d="M303.4 1475.0 L304.5 1475.0 L310.0 1477.3 L315.5 1479.8 L321.2 1477.5 L327.5 1474.3 L335.0 1472.5 L342.5 1471.8 L350.0 1472.5 L357.5 1471.5 L362.5 1470.5 L367.5 1473.0 L372.5 1476.8 L378.0 1477.5 L383.8 1473.5 L388.8 1471.8 L396.2 1471.3 L403.0 1470.0 L408.8 1472.3 L413.8 1474.8 L422.5 1475.0 L430.0 1475.8 L435.0 1474.3 L439.2 1473.0 L445.0 1475.5 L450.0 1477.3 L456.2 1475.0 L462.5 1473.5 L470.0 1474.3 L476.2 1475.8 L481.2 1475.3 L486.2 1473.5 L491.2 1473.8 L496.8 1476.5 L502.0 1477.5 L508.8 1475.0 L516.2 1472.3 L523.8 1469.8 L531.2 1468.8 L537.5 1468.8 L543.8 1470.5 L552.5 1472.5 L560.0 1473.8 L567.5 1476.0 L573.8 1479.3 L579.5 1481.3 L584.5 1478.0 L589.5 1473.8 L595.0 1473.8 L600.0 1475.5 L605.5 1477.0 L610.5 1477.8 L615.0 1476.3 L620.5 1470.5 L625.5 1468.3 L630.5 1471.8 L636.2 1476.0 L641.8 1478.0 L647.5 1476.8 L652.5 1474.3 L658.8 1471.3 L663.8 1470.0 L668.8 1470.5 L673.8 1468.0 L677.5 1465.3 L682.5 1469.3 L687.5 1478.8 L693.0 1482.5 L698.0 1479.8 L703.0 1476.3 L708.0 1472.5 L713.2 1468.0 L718.8 1470.5 L723.8 1474.8 L730.0 1478.0 L736.2 1479.8 L742.5 1481.0 L747.5 1481.0 L751.2 1479.3 L756.2 1474.3 L761.2 1469.3 L766.2 1466.8 L770.5 1467.3 L775.5 1472.5 L780.5 1476.8 L785.5 1477.0 L791.2 1474.8 L797.5 1473.3 L802.5 1473.0 L807.5 1473.8 L812.5 1477.0 L817.0 1480.0 L822.0 1475.5 L827.0 1468.3 L832.0 1471.0 L837.0 1479.3 L842.0 1482.3 L847.5 1481.0 L853.0 1479.3 L858.0 1476.3 L863.5 1471.0 L868.5 1465.5 L873.8 1462.5 L878.8 1466.3 L884.2 1471.3 L889.8 1473.8 L894.8 1473.8 L899.8 1472.3 L904.8 1468.5 L910.0 1465.5 L915.0 1466.8 L920.0 1471.0 L925.5 1476.8 L930.5 1482.3 L936.0 1487.5 L940.5 1486.8 L946.0 1479.8 L951.0 1473.5 L956.8 1471.8 L962.2 1472.5 L967.2 1474.8 L972.5 1478.0 L977.2 1480.3 L982.2 1479.8 L987.5 1476.3 L993.0 1472.8 L998.5 1472.0 L1008.0 1471.8 L1015.5 1470.5 L1023.0 1470.3 L1029.2 1470.5 L1034.2 1468.5 L1039.2 1466.0 L1044.2 1467.5 L1049.2 1474.3 L1054.2 1481.0 L1060.5 1487.3 L1066.8 1492.3 L1073.0 1495.5 L1078.0 1495.0 L1082.5 1490.5 L1087.2 1479.3 L1093.0 1456.8 L1099.2 1438.0 L1105.5 1424.3 L1111.8 1416.8 L1116.8 1416.3 L1121.8 1421.8 L1127.5 1436.8 L1131.8 1459.3 L1135.5 1481.8 L1138.8 1496.8 L1142.2 1513.0 L1147.5 1529.8 L1153.0 1536.0 L1158.0 1530.0 L1163.0 1514.3 L1168.5 1494.3 L1173.0 1482.3 L1178.0 1475.0 L1183.0 1475.5 L1188.5 1479.3 L1193.5 1485.5 L1198.5 1493.0 L1203.5 1496.0 L1208.0 1488.0 L1213.0 1478.0 L1218.0 1468.0 L1224.2 1459.3 L1230.5 1452.3 L1235.5 1449.8 L1240.5 1453.0 L1246.8 1460.5 L1253.0 1468.0 L1259.2 1474.8 L1265.5 1478.0 L1271.0 1479.8 L1276.0 1479.3 L1281.8 1474.8 L1287.2 1470.0 L1293.0 1467.8 L1299.2 1468.5 L1306.8 1468.8 L1311.8 1471.8 L1318.0 1478.5 L1323.0 1478.0 L1328.0 1472.5 L1333.5 1468.5 L1339.2 1468.8 L1346.8 1470.5 L1353.0 1473.0 L1360.5 1476.0 L1368.0 1477.3 L1375.5 1478.0 L1383.0 1478.8 L1389.2 1481.0 L1395.5 1485.0 L1400.5 1488.0 L1406.0 1488.0 L1411.0 1483.0 L1416.5 1478.8 L1421.5 1479.3 L1426.5 1480.5 L1431.8 1477.3 L1436.8 1475.5 L1442.2 1480.5 L1447.2 1484.3 L1452.2 1481.8 L1457.8 1474.3 L1463.0 1464.3 L1468.0 1453.0 L1473.5 1443.0 L1478.5 1433.5 L1483.5 1426.3 L1488.5 1426.3 L1493.5 1433.8 L1499.0 1445.5 L1504.2 1460.0 L1509.2 1476.8 L1514.8 1491.8 L1519.8 1503.8 L1524.8 1511.3 L1529.8 1511.8 L1534.8 1505.5 L1541.0 1493.0 L1545.2 1485.5 L1550.5 1477.3 L1555.5 1473.5 L1560.5 1474.8 L1566.0 1481.8 L1571.0 1487.3 L1576.0 1488.5 L1581.0 1487.3 L1586.5 1485.5 L1591.5 1480.5 L1596.8 1470.5 L1602.2 1460.5 L1607.2 1455.3 L1612.2 1455.0 L1618.0 1459.3 L1623.5 1465.0 L1628.5 1471.0 L1633.5 1478.0 L1638.5 1485.0 L1643.5 1487.8 L1649.0 1485.5 L1654.0 1481.3 L1659.0 1474.3 L1664.8 1466.3 L1669.8 1461.0 L1674.8 1458.5 L1680.2 1458.3 L1685.2 1459.3 L1691.0 1460.5 L1696.0 1462.5 L1701.0 1466.3 L1706.0 1471.8 L1711.0 1476.8 L1716.0 1478.5 L1721.5 1477.3 L1726.0 1477.8 L1731.0 1480.0 L1736.0 1480.8 L1742.2 1478.8 L1751.5 1478.3 L1757.2 1475.5 L1762.2 1475.0 L1767.2 1478.0 L1772.8 1479.5 L1778.5 1478.0 L1787.2 1476.8 L1793.5 1474.3 L1798.5 1471.8 L1803.5 1472.0 L1808.5 1474.8 L1814.0 1476.8 L1819.0 1476.8 L1824.8 1475.8 L1829.8 1476.3 L1834.8 1478.0 L1839.8 1478.5 L1846.0 1476.0 L1852.2 1474.3 L1857.2 1472.3 L1862.2 1468.8 L1867.2 1464.3 L1871.0 1462.3 L1876.0 1463.8 L1882.2 1467.0 L1891.0 1469.3 L1897.2 1472.5 L1902.2 1474.8 L1908.5 1476.3 L1913.5 1478.5 L1918.0 1480.5 L1923.5 1480.3 L1928.5 1479.5 L1933.5 1479.8 L1938.5 1478.0 L1943.5 1474.3 L1948.5 1472.8 L1953.5 1473.3 L1959.0 1471.0 L1964.2 1469.0 L1969.2 1470.0 L1974.2 1475.5 L1979.2 1480.0 L1985.0 1481.5 L1992.5 1482.5 L1998.8 1482.8 L2004.2 1481.3 L2009.2 1478.0 L2014.2 1474.3 L2020.0 1471.3 L2026.2 1467.0 L2031.2 1465.3 L2036.2 1466.8 L2041.8 1470.5 L2046.8 1473.8 L2052.5 1475.0 L2060.0 1474.8 L2067.5 1474.3 L2072.5 1471.8 L2077.5 1468.5 L2082.5 1467.0 L2087.5 1468.8 L2093.0 1471.3 L2098.0 1472.3 L2102.5 1473.3 L2107.5 1476.8 L2112.8 1480.5" stroke="#808080" stroke-width="2.00"/>
<path d="M303.4 1465.1 L304.5 1465.1 L310.0 1470.1 L315.5 1473.4 L320.5 1472.9 L325.8 1475.1 L331.2 1478.4 L336.2 1474.6 L341.2 1467.1 L346.2 1465.6 L351.8 1470.1 L357.0 1474.6 L362.5 1476.4 L372.5 1476.9 L377.5 1474.1 L383.0 1471.1 L387.5 1471.1 L393.0 1473.9 L398.8 1475.6 L408.8 1474.1 L418.8 1475.4 L428.8 1472.1 L436.2 1472.9 L443.8 1473.9 L450.0 1476.6 L455.0 1477.4 L460.0 1473.4 L465.0 1470.4 L470.5 1473.1 L475.8 1475.9 L481.2 1473.6 L486.2 1471.6 L491.2 1472.6 L496.2 1474.9 L506.2 1474.6 L512.0 1476.9 L517.0 1475.6 L522.0 1473.6 L527.5 1477.6 L533.0 1479.6 L538.0 1473.1 L543.0 1469.9 L548.8 1471.9 L558.8 1475.4 L563.8 1476.9 L568.8 1474.9 L574.2 1471.9 L579.2 1472.1 L585.0 1475.4 L590.0 1476.9 L595.0 1473.9 L600.0 1469.9 L605.0 1470.6 L610.5 1476.4 L615.5 1478.9 L620.5 1471.9 L625.5 1465.1 L631.0 1466.4 L636.2 1475.6 L641.2 1480.1 L646.2 1476.9 L651.2 1475.6 L657.5 1477.6 L662.5 1477.4 L667.5 1475.1 L672.5 1471.9 L677.5 1466.9 L682.0 1463.6 L687.0 1468.1 L692.5 1481.4 L698.0 1488.1 L703.0 1482.1 L708.0 1467.6 L713.2 1457.9 L718.2 1466.4 L723.8 1480.1 L728.8 1485.9 L734.2 1484.9 L739.5 1486.4 L744.5 1488.1 L750.0 1483.9 L755.0 1470.6 L760.0 1458.4 L765.0 1458.4 L770.0 1468.1 L775.0 1477.6 L780.0 1482.1 L785.8 1480.6 L791.2 1477.6 L796.2 1476.9 L801.2 1479.1 L806.8 1477.9 L812.5 1472.1 L817.5 1468.4 L822.5 1467.6 L828.8 1469.4 L835.0 1472.6 L841.2 1478.9 L847.5 1485.1 L853.0 1487.1 L858.0 1482.6 L863.5 1473.9 L868.5 1465.9 L873.5 1465.1 L879.2 1470.6 L885.5 1476.4 L890.5 1480.1 L894.8 1481.6 L899.2 1480.1 L904.2 1475.1 L909.2 1466.4 L914.8 1459.4 L920.0 1463.9 L925.5 1471.9 L930.5 1477.6 L936.0 1480.9 L941.0 1477.6 L946.2 1474.1 L951.2 1474.4 L956.8 1476.1 L962.2 1477.6 L967.2 1476.9 L972.5 1473.1 L976.8 1471.4 L981.8 1475.6 L987.2 1477.9 L992.2 1471.4 L997.5 1465.1 L1002.5 1467.1 L1008.0 1473.9 L1013.5 1480.1 L1018.0 1483.1 L1023.0 1481.4 L1028.5 1476.4 L1034.2 1473.9 L1039.2 1475.1 L1044.2 1478.4 L1049.8 1482.1 L1055.0 1483.1 L1060.0 1478.9 L1065.0 1477.4 L1070.0 1483.9 L1075.0 1490.1 L1080.0 1485.6 L1085.5 1471.4 L1091.8 1453.9 L1098.0 1437.6 L1104.2 1422.6 L1110.5 1412.6 L1115.5 1415.1 L1120.5 1428.9 L1125.5 1448.9 L1131.8 1476.4 L1137.2 1500.1 L1142.2 1516.9 L1147.5 1528.1 L1152.5 1526.4 L1157.5 1518.9 L1163.0 1512.6 L1168.5 1507.6 L1173.5 1498.9 L1178.5 1487.6 L1183.5 1481.4 L1188.8 1482.6 L1194.2 1485.1 L1199.2 1481.4 L1204.2 1471.4 L1209.2 1461.9 L1214.2 1455.9 L1219.8 1452.6 L1225.5 1454.6 L1231.8 1458.1 L1236.8 1459.6 L1241.8 1463.9 L1246.8 1472.6 L1251.8 1481.4 L1256.0 1485.1 L1261.0 1482.6 L1266.0 1470.1 L1271.0 1456.4 L1276.0 1448.4 L1281.8 1448.1 L1286.8 1452.6 L1292.2 1460.1 L1297.2 1471.4 L1302.2 1482.6 L1307.2 1490.1 L1313.0 1491.9 L1318.5 1487.6 L1324.2 1480.6 L1329.2 1471.4 L1334.2 1462.6 L1338.8 1459.6 L1343.5 1470.1 L1348.5 1485.1 L1354.2 1495.1 L1360.5 1500.9 L1365.5 1503.9 L1370.0 1504.6 L1375.0 1501.4 L1380.0 1491.4 L1385.0 1473.9 L1390.0 1455.1 L1395.0 1444.4 L1400.5 1443.1 L1406.0 1448.9 L1411.0 1455.1 L1416.5 1461.9 L1421.5 1468.4 L1426.5 1474.6 L1431.8 1479.4 L1437.0 1482.4 L1442.2 1481.9 L1447.2 1480.9 L1452.8 1481.4 L1457.8 1479.4 L1463.0 1475.1 L1468.0 1474.6 L1473.0 1475.1 L1478.5 1472.6 L1483.5 1471.4 L1488.5 1473.9 L1493.5 1469.4 L1498.5 1460.6 L1504.0 1458.4 L1509.2 1464.4 L1514.2 1466.9 L1519.8 1466.6 L1524.8 1472.6 L1529.8 1481.4 L1534.8 1485.9 L1540.2 1480.1 L1545.2 1473.4 L1550.5 1473.1 L1555.5 1478.4 L1561.0 1481.9 L1566.0 1481.4 L1571.0 1480.9 L1576.0 1484.6 L1581.0 1489.1 L1586.5 1486.9 L1591.5 1479.6 L1596.8 1476.4 L1602.2 1478.9 L1607.2 1479.1 L1612.2 1473.4 L1617.2 1463.9 L1622.2 1455.1 L1627.8 1452.6 L1633.0 1458.1 L1638.5 1464.6 L1643.5 1465.1 L1648.5 1463.6 L1653.5 1467.6 L1658.5 1478.1 L1663.5 1487.9 L1669.0 1487.9 L1674.0 1484.6 L1679.0 1483.1 L1684.0 1481.4 L1689.2 1476.4 L1694.8 1473.9 L1699.8 1477.1 L1705.2 1480.1 L1710.2 1479.6 L1716.0 1478.4 L1721.0 1476.9 L1726.0 1474.4 L1731.0 1470.6 L1736.0 1467.9 L1741.5 1469.6 L1746.5 1473.1 L1751.5 1471.9 L1756.8 1466.9 L1762.2 1465.1 L1767.2 1470.9 L1772.2 1477.1 L1777.2 1479.4 L1782.2 1478.1 L1787.2 1477.4 L1792.8 1479.4 L1798.0 1479.6 L1803.0 1475.6 L1808.5 1470.6 L1814.0 1471.9 L1819.0 1479.4 L1824.2 1483.6 L1829.2 1477.6 L1834.8 1470.6 L1839.8 1468.4 L1845.2 1468.4 L1850.2 1467.6 L1855.2 1466.6 L1860.2 1467.9 L1865.5 1471.9 L1870.5 1472.6 L1876.0 1469.6 L1881.0 1468.9 L1886.5 1470.4 L1891.5 1470.1 L1896.5 1471.9 L1901.5 1476.4 L1906.8 1478.9 L1912.2 1477.6 L1917.2 1476.9 L1922.2 1475.1 L1927.2 1472.6 L1932.8 1473.4 L1938.0 1475.4 L1943.0 1473.1 L1948.5 1470.9 L1953.5 1470.9 L1959.0 1473.4 L1964.2 1477.6 L1969.2 1479.9 L1975.0 1478.4 L1981.2 1476.4 L1989.5 1473.4 L1995.0 1475.1 L2000.0 1478.1 L2005.0 1478.4 L2010.0 1476.4 L2015.0 1474.4 L2021.2 1473.9 L2026.2 1472.4 L2031.2 1470.6 L2036.2 1471.4 L2041.8 1473.9 L2046.8 1473.1 L2051.2 1470.9 L2055.8 1469.6 L2061.2 1471.1 L2067.5 1472.6 L2073.8 1472.9 L2080.0 1473.4 L2086.2 1473.9 L2092.5 1474.4 L2100.0 1474.1 L2105.0 1473.9 L2112.8 1474.4" stroke="#808080" stroke-width="2.00"/>
<path d="M303.4 1474.8 L304.5 1474.8 L315.0 1473.5 L325.0 1474.5 L335.0 1473.5 L347.5 1474.8 L362.5 1473.8 L382.5 1474.5 L395.0 1474.8 L407.5 1473.2 L420.0 1474.0 L435.0 1474.0 L447.5 1473.5 L457.5 1473.0 L471.2 1476.0 L485.0 1474.0 L492.5 1473.8 L503.8 1475.8 L516.2 1474.0 L532.5 1473.8 L543.8 1474.8 L553.8 1473.2 L565.0 1474.8 L577.5 1473.2 L590.0 1475.5 L605.0 1474.0 L617.5 1474.2 L636.2 1475.5 L650.0 1474.8 L658.8 1474.8 L663.8 1473.0 L668.8 1469.2 L673.8 1465.0 L678.2 1464.0 L683.2 1468.5 L688.8 1477.8 L693.8 1486.5 L699.2 1488.2 L704.2 1478.5 L709.5 1465.2 L714.5 1457.2 L720.0 1462.2 L725.0 1472.2 L730.0 1481.0 L735.5 1488.5 L741.2 1493.5 L745.8 1493.0 L750.8 1483.5 L756.2 1468.5 L761.2 1456.0 L766.2 1454.2 L771.2 1463.5 L776.8 1475.2 L782.0 1481.0 L786.2 1480.2 L792.0 1476.5 L797.5 1473.8 L807.5 1473.0 L812.5 1469.8 L818.0 1465.8 L823.0 1466.0 L828.0 1472.2 L833.8 1482.2 L838.8 1489.0 L843.8 1488.5 L848.8 1481.0 L858.0 1466.0 L863.5 1464.2 L869.2 1467.2 L875.5 1473.0 L883.0 1480.5 L890.5 1484.2 L895.5 1482.8 L900.5 1477.2 L906.0 1469.8 L911.8 1465.8 L916.8 1466.2 L924.2 1469.8 L931.8 1473.0 L940.5 1472.8 L946.8 1474.8 L953.0 1479.0 L958.0 1482.2 L962.2 1481.8 L968.0 1476.0 L973.5 1468.0 L978.8 1464.0 L984.2 1465.5 L990.5 1473.0 L998.0 1482.2 L1004.2 1487.5 L1009.2 1487.8 L1014.2 1483.5 L1020.0 1476.0 L1025.5 1469.8 L1030.5 1467.2 L1035.5 1469.2 L1040.5 1476.5 L1046.0 1485.2 L1051.0 1489.0 L1055.5 1487.8 L1060.5 1484.8 L1066.0 1479.0 L1070.5 1469.8 L1075.5 1456.0 L1080.5 1439.0 L1086.0 1424.8 L1091.8 1416.5 L1096.8 1418.5 L1101.8 1432.2 L1106.8 1454.8 L1110.5 1476.0 L1115.5 1498.5 L1121.8 1521.0 L1128.0 1535.5 L1132.5 1536.0 L1138.0 1527.2 L1143.8 1508.5 L1149.2 1488.5 L1155.5 1467.2 L1160.0 1459.8 L1164.2 1457.8 L1169.2 1461.0 L1174.2 1468.5 L1179.8 1478.5 L1185.0 1485.2 L1190.0 1484.2 L1195.0 1473.5 L1200.5 1459.8 L1205.5 1448.5 L1211.0 1441.5 L1216.0 1440.2 L1221.2 1447.2 L1226.8 1459.8 L1231.8 1470.2 L1238.0 1476.0 L1244.2 1481.0 L1250.5 1486.0 L1255.5 1488.5 L1265.5 1491.5 L1273.0 1495.2 L1278.0 1497.2 L1283.0 1496.8 L1288.0 1491.0 L1293.0 1478.5 L1298.0 1461.0 L1303.0 1441.0 L1308.5 1424.0 L1314.2 1414.2 L1319.2 1417.2 L1324.8 1433.5 L1329.8 1457.2 L1333.0 1472.2 L1339.2 1501.0 L1345.0 1519.8 L1350.0 1525.5 L1355.5 1522.2 L1363.0 1508.5 L1370.5 1494.8 L1378.0 1484.0 L1388.0 1473.5 L1395.5 1463.5 L1401.8 1456.5 L1412.2 1450.5 L1417.2 1450.5 L1423.5 1454.8 L1431.0 1466.0 L1438.5 1477.2 L1446.0 1484.2 L1453.5 1486.5 L1459.8 1485.5 L1468.5 1479.0 L1477.2 1471.5 L1483.5 1468.5 L1491.0 1468.0 L1498.5 1470.0 L1508.5 1473.2 L1518.5 1474.2 L1531.0 1473.5 L1541.0 1474.0 L1551.0 1477.2 L1558.5 1481.0 L1566.0 1485.5 L1573.5 1487.8 L1581.0 1487.2 L1588.5 1484.0 L1596.0 1476.0 L1603.5 1464.8 L1609.8 1457.2 L1616.0 1454.0 L1622.2 1454.8 L1628.5 1459.0 L1636.0 1468.5 L1643.5 1476.8 L1649.8 1478.5 L1658.5 1477.8 L1668.5 1476.5 L1677.2 1476.0 L1683.5 1477.8 L1693.5 1481.0 L1702.2 1483.0 L1708.5 1483.0 L1717.2 1480.5 L1726.0 1474.8 L1733.5 1469.8 L1742.2 1466.0 L1751.0 1464.8 L1758.5 1465.2 L1764.8 1468.5 L1773.5 1476.5 L1782.2 1482.2 L1791.0 1484.8 L1799.8 1483.0 L1808.5 1479.0 L1816.0 1474.8 L1823.5 1472.2 L1833.5 1469.8 L1843.5 1467.2 L1851.0 1463.0 L1857.2 1458.5 L1862.2 1457.0 L1868.5 1459.0 L1876.0 1466.0 L1883.5 1476.0 L1891.0 1485.5 L1897.2 1489.8 L1903.5 1490.5 L1913.5 1489.2 L1921.0 1486.0 L1928.5 1481.0 L1936.0 1476.5 L1943.5 1475.2 L1949.8 1475.2 L1954.8 1473.0 L1962.5 1469.5 L1970.0 1467.2 L1980.0 1465.5 L1990.0 1466.5 L2000.0 1467.5 L2010.0 1471.0 L2020.0 1474.8 L2030.0 1479.0 L2040.0 1481.8 L2046.2 1482.0 L2052.5 1480.2 L2060.0 1477.2 L2070.0 1474.2 L2078.8 1471.8 L2085.0 1471.5 L2092.5 1471.8 L2100.0 1470.5 L2107.5 1468.8 L2112.8 1467.5" stroke="#808080" stroke-width="2.00"/>
<path d="M303.4 1473.9 L304.5 1472.6 L311.2 1475.6 L316.2 1481.1 L322.0 1482.3 L332.0 1468.1 L337.0 1466.6 L347.5 1469.3 L358.0 1474.6 L363.8 1474.3 L368.8 1472.3 L375.0 1472.6 L379.5 1473.6 L388.8 1471.8 L400.0 1472.3 L410.0 1474.8 L415.0 1475.6 L425.0 1471.1 L430.0 1474.3 L435.5 1479.3 L441.2 1478.6 L450.0 1474.3 L456.2 1468.6 L461.2 1466.1 L471.2 1477.3 L476.2 1475.1 L482.5 1471.1 L487.5 1470.8 L492.5 1474.3 L497.5 1480.6 L502.5 1484.3 L512.5 1477.6 L518.8 1476.8 L523.8 1475.1 L528.8 1471.6 L537.5 1470.3 L544.2 1468.1 L549.2 1470.6 L554.5 1475.8 L564.5 1473.6 L570.0 1481.1 L575.0 1486.3 L585.5 1474.3 L595.0 1474.3 L600.0 1475.6 L605.5 1479.3 L610.0 1476.1 L616.2 1469.1 L621.2 1471.3 L626.2 1475.1 L631.2 1476.8 L636.8 1481.8 L642.0 1485.8 L647.5 1479.3 L652.5 1473.1 L662.5 1468.8 L670.0 1464.3 L678.8 1455.6 L683.8 1456.1 L688.8 1469.3 L693.2 1489.3 L698.8 1499.8 L703.8 1484.3 L709.2 1462.3 L714.2 1460.6 L719.5 1469.3 L725.0 1468.8 L729.5 1470.3 L735.0 1484.3 L740.2 1496.3 L745.0 1492.3 L750.0 1476.8 L755.5 1460.1 L760.8 1451.8 L765.5 1456.8 L771.2 1468.8 L776.8 1476.8 L781.8 1478.3 L787.5 1471.8 L792.0 1464.3 L797.0 1463.8 L802.0 1473.6 L807.2 1480.8 L812.5 1477.3 L818.0 1470.6 L823.0 1469.1 L828.0 1472.3 L833.2 1477.3 L838.8 1480.6 L843.8 1483.1 L848.8 1484.3 L858.5 1479.3 L863.8 1475.6 L869.2 1473.1 L874.2 1472.1 L879.2 1468.8 L884.5 1466.3 L889.8 1473.6 L895.0 1484.8 L900.0 1482.3 L905.2 1466.8 L910.5 1459.6 L915.5 1467.3 L921.0 1472.3 L926.2 1469.6 L931.2 1467.8 L936.8 1465.3 L941.8 1464.1 L946.8 1472.3 L952.0 1488.8 L957.2 1499.1 L962.2 1492.3 L967.5 1475.6 L972.8 1461.6 L978.0 1460.1 L983.0 1471.3 L988.2 1483.6 L993.5 1486.6 L998.8 1484.8 L1003.8 1484.3 L1008.8 1482.6 L1014.2 1478.1 L1019.2 1475.1 L1024.2 1468.8 L1029.5 1460.6 L1034.5 1470.1 L1039.8 1491.1 L1045.0 1493.6 L1050.0 1478.3 L1055.2 1473.6 L1060.5 1485.1 L1065.8 1490.8 L1071.0 1486.1 L1076.0 1483.6 L1081.2 1487.3 L1086.2 1486.8 L1091.2 1477.3 L1096.2 1467.6 L1101.8 1458.1 L1106.8 1445.6 L1111.8 1429.3 L1117.2 1415.1 L1122.2 1412.6 L1127.5 1421.1 L1132.8 1433.8 L1138.0 1451.8 L1143.0 1481.8 L1148.0 1509.6 L1153.2 1523.6 L1158.5 1531.1 L1163.8 1534.8 L1168.8 1527.3 L1173.8 1504.8 L1179.2 1480.1 L1184.5 1465.6 L1189.8 1460.6 L1194.8 1461.3 L1200.0 1469.3 L1205.0 1481.3 L1210.5 1492.6 L1215.8 1497.1 L1220.8 1495.3 L1226.0 1488.1 L1231.2 1468.1 L1236.2 1446.1 L1241.2 1433.1 L1246.5 1436.8 L1251.8 1451.8 L1256.8 1468.1 L1262.0 1488.8 L1267.2 1507.6 L1272.2 1520.8 L1277.5 1520.3 L1282.5 1505.6 L1287.8 1482.6 L1293.0 1457.6 L1298.0 1436.8 L1303.2 1423.6 L1308.5 1417.8 L1313.5 1423.1 L1318.8 1441.3 L1324.0 1460.6 L1329.2 1472.6 L1334.2 1479.3 L1339.2 1475.8 L1344.8 1464.3 L1350.0 1458.6 L1355.0 1459.6 L1360.2 1462.3 L1365.5 1470.1 L1370.5 1488.1 L1375.8 1505.6 L1381.0 1514.8 L1386.2 1519.1 L1391.2 1517.3 L1396.5 1508.1 L1401.8 1498.1 L1411.5 1478.8 L1416.8 1464.3 L1422.2 1456.1 L1427.2 1458.8 L1432.5 1466.3 L1437.8 1470.6 L1443.0 1470.6 L1448.0 1472.1 L1453.5 1474.3 L1458.5 1470.6 L1463.5 1466.1 L1469.0 1464.8 L1474.0 1462.6 L1479.0 1460.8 L1484.2 1464.3 L1489.8 1471.8 L1494.8 1478.8 L1499.8 1484.8 L1505.0 1488.3 L1509.8 1486.6 L1515.2 1479.8 L1520.5 1470.1 L1525.8 1455.6 L1531.0 1444.8 L1536.0 1444.8 L1541.0 1450.1 L1546.0 1455.1 L1551.2 1463.8 L1556.2 1478.1 L1561.5 1486.1 L1567.2 1483.1 L1571.8 1482.3 L1577.2 1487.3 L1582.5 1488.3 L1587.8 1484.6 L1592.8 1485.1 L1598.0 1491.1 L1603.0 1498.6 L1608.2 1506.6 L1613.5 1508.1 L1618.5 1498.6 L1623.8 1489.3 L1629.0 1487.1 L1634.0 1486.8 L1639.2 1478.6 L1644.2 1466.3 L1649.8 1456.3 L1654.8 1450.6 L1659.8 1444.3 L1665.0 1438.1 L1670.2 1439.6 L1675.2 1449.8 L1680.5 1460.1 L1685.8 1463.8 L1691.0 1464.1 L1696.0 1465.6 L1701.2 1473.8 L1706.5 1481.8 L1711.5 1479.3 L1716.8 1473.3 L1722.0 1476.6 L1727.2 1483.1 L1732.2 1483.3 L1737.5 1482.1 L1742.8 1486.1 L1747.8 1490.1 L1753.0 1486.8 L1758.0 1478.6 L1763.5 1474.1 L1768.8 1474.3 L1773.8 1473.1 L1779.0 1469.3 L1784.2 1468.8 L1789.2 1474.1 L1794.2 1474.3 L1799.5 1467.6 L1804.8 1469.6 L1809.8 1480.1 L1815.0 1488.1 L1820.2 1490.8 L1825.5 1489.3 L1830.5 1486.1 L1835.5 1483.6 L1840.8 1480.6 L1846.0 1470.6 L1851.0 1458.1 L1856.2 1455.1 L1861.5 1459.8 L1866.5 1458.1 L1871.5 1451.8 L1877.0 1457.3 L1882.2 1473.1 L1887.2 1482.3 L1892.2 1476.8 L1897.8 1465.6 L1902.8 1463.1 L1908.0 1467.6 L1913.2 1472.3 L1918.5 1476.1 L1923.5 1479.8 L1928.8 1480.3 L1934.0 1478.1 L1939.2 1481.3 L1944.2 1490.6 L1949.5 1495.1 L1954.8 1490.6 L1964.5 1481.1 L1969.5 1484.1 L1974.8 1483.1 L1980.0 1477.3 L1985.0 1472.6 L1990.0 1472.3 L1995.0 1471.6 L2000.5 1468.3 L2005.8 1467.8 L2010.8 1471.1 L2016.2 1473.8 L2021.2 1473.3 L2026.8 1471.3 L2031.8 1471.6 L2037.0 1474.1 L2042.0 1476.1 L2047.0 1476.3 L2052.5 1478.1 L2057.5 1479.1 L2062.8 1476.6 L2068.0 1475.1 L2073.0 1474.6 L2078.2 1468.8 L2083.2 1462.1 L2088.5 1461.6 L2093.8 1467.6 L2099.0 1472.8 L2104.0 1473.6 L2108.8 1471.1 L2112.8 1468.8" stroke="#0000ff" stroke-width="2.08"/>
</g>
<text transform="translate(325.0 227.9) scale(1 1.02)" font-size="41.67" fill="#000">607800160 | 1.00</text>
<text transform="translate(325.0 340.0) scale(1 1.02)" font-size="41.67" fill="#000">1138807 | 0.91</text>
<text transform="translate(325.0 452.1) scale(1 1.02)" font-size="41.67" fill="#000">1135497 | 0.77</text>
<text transform="translate(325.0 564.2) scale(1 1.02)" font-size="41.67" fill="#000">1109313 | 0.77</text>
<text transform="translate(325.0 676.3) scale(1 1.02)" font-size="41.67" fill="#000">1040826 | 0.77</text>
<text transform="translate(325.0 788.4) scale(1 1.02)" font-size="41.67" fill="#000">1057829 | 0.75</text>
<text transform="translate(325.0 900.5) scale(1 1.02)" font-size="41.67" fill="#000">1139485 | 0.74</text>
<text transform="translate(325.0 1012.6) scale(1 1.02)" font-size="41.67" fill="#000">1511474 | 0.73</text>
<text transform="translate(325.0 1124.7) scale(1 1.02)" font-size="41.67" fill="#000">1460878 | 0.73</text>
<text transform="translate(325.0 1236.8) scale(1 1.02)" font-size="41.67" fill="#000">1460769 | 0.73</text>
<text transform="translate(325.0 1348.9) scale(1 1.02)" font-size="41.67" fill="#000">1148529 | 0.73</text>
<rect x="661.4" y="213.4" width="8.3" height="55.8" fill="#ff0000"/>
<rect x="1105.8" y="213.4" width="8.3" height="55.8" fill="#00e600"/>
<rect x="1082.4" y="325.5" width="8.3" height="55.8" fill="#00e600"/>
<rect x="1096.8" y="437.6" width="8.3" height="55.8" fill="#00e600"/>
<rect x="1086.8" y="549.7" width="8.3" height="55.8" fill="#00e600"/>
<rect x="1894.1" y="661.8" width="8.3" height="55.8" fill="#00e600"/>
<rect x="998.2" y="773.9" width="8.3" height="55.8" fill="#00e600"/>
<rect x="937.6" y="886.0" width="8.3" height="55.8" fill="#00e600"/>
<rect x="1179.9" y="998.1" width="8.3" height="55.8" fill="#00e600"/>
<rect x="1109.8" y="1110.2" width="8.3" height="55.8" fill="#00e600"/>
<rect x="902.5" y="1222.3" width="8.3" height="55.8" fill="#00e600"/>
<rect x="859.6" y="1334.4" width="8.3" height="55.8" fill="#00e600"/>
<text transform="translate(457.9 1617.3) scale(1 1.02)" font-size="41.67" text-anchor="middle" fill="#262626">-0.2</text>
<text transform="translate(664.2 1617.3) scale(1 1.02)" font-size="41.67" text-anchor="middle" fill="#262626">0</text>
<text transform="translate(872.0 1617.3) scale(1 1.02)" font-size="41.67" text-anchor="middle" fill="#262626">0.2</text>
<text transform="translate(1078.9 1617.3) scale(1 1.02)" font-size="41.67" text-anchor="middle" fill="#262626">0.4</text>
<text transform="translate(1285.5 1617.3) scale(1 1.02)" font-size="41.67" text-anchor="middle" fill="#262626">0.6</text>
<text transform="translate(1492.2 1617.3) scale(1 1.02)" font-size="41.67" text-anchor="middle" fill="#262626">0.8</text>
<text transform="translate(1697.2 1617.3) scale(1 1.02)" font-size="41.67" text-anchor="middle" fill="#262626">1</text>
<text transform="translate(1905.3 1617.3) scale(1 1.02)" font-size="41.67" text-anchor="middle" fill="#262626">1.2</text>
<text transform="translate(2112.7 1617.3) scale(1 1.02)" font-size="41.67" text-anchor="middle" fill="#262626">1.4</text>
</svg></body></html>
